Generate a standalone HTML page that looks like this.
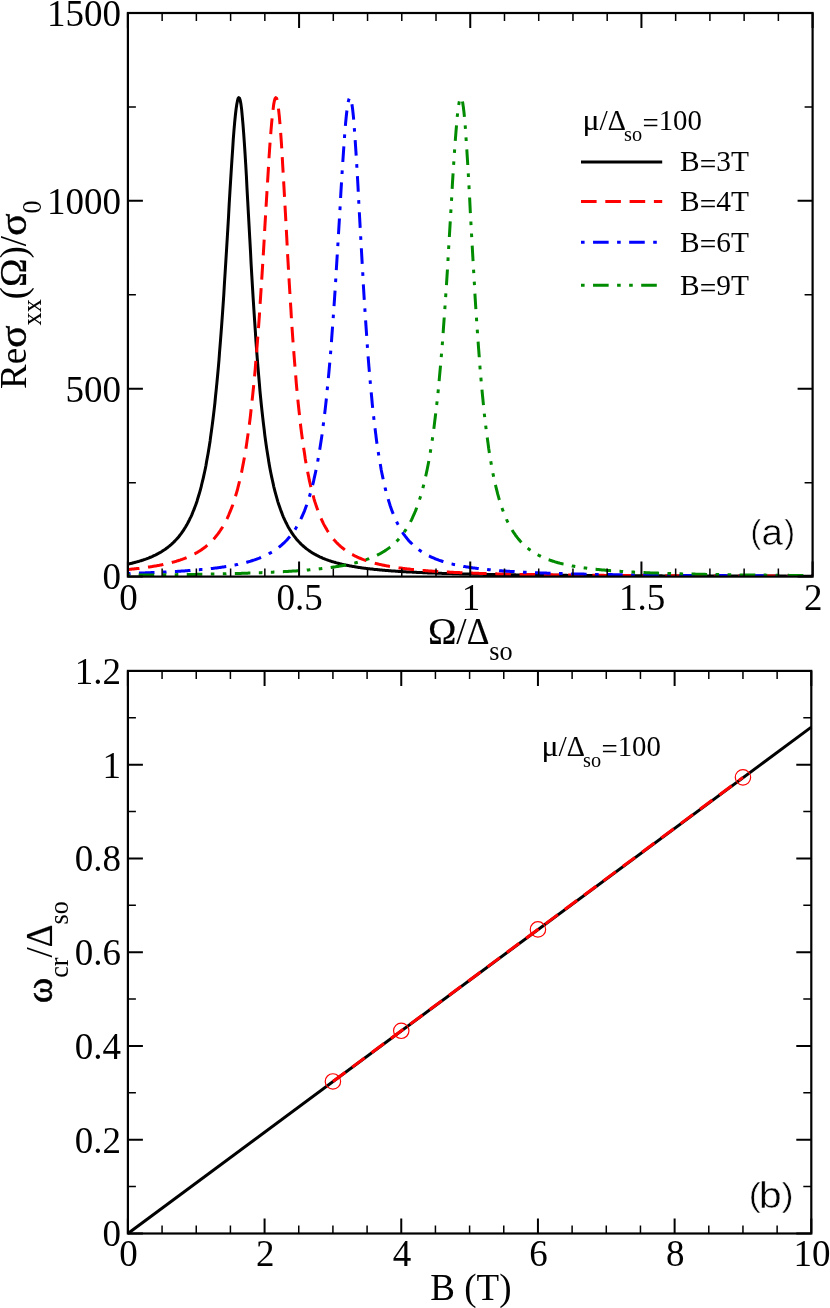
<!DOCTYPE html>
<html><head><meta charset="utf-8"><title>fig</title>
<style>
html,body{margin:0;padding:0;background:#fff;}
svg{display:block;will-change:transform;opacity:0.999}
text{font-family:"Liberation Serif", serif;fill:#000}
.s{font-family:"Liberation Sans", sans-serif}
</style></head><body>
<svg width="830" height="1308" viewBox="0 0 830 1308">
<rect width="830" height="1308" fill="#fff"/>
<clipPath id="c1"><rect x="127.9" y="13.0" width="684.7" height="563.6"/></clipPath>
<g clip-path="url(#c1)" fill="none" stroke-width="3" stroke-linejoin="round">
<path d="M127.9,564.1 L128.6,564.0 L129.3,563.8 L130.0,563.7 L130.6,563.5 L131.3,563.4 L132.0,563.2 L132.7,563.0 L133.4,562.8 L134.1,562.7 L134.7,562.5 L135.4,562.3 L136.1,562.1 L136.8,561.9 L137.5,561.7 L138.2,561.6 L138.9,561.4 L139.5,561.1 L140.2,560.9 L140.9,560.7 L141.6,560.5 L142.3,560.3 L143.0,560.1 L143.6,559.8 L144.3,559.6 L145.0,559.4 L145.7,559.1 L146.4,558.9 L147.1,558.6 L147.8,558.3 L148.4,558.1 L149.1,557.8 L149.8,557.5 L150.5,557.2 L151.2,557.0 L151.9,556.7 L152.5,556.4 L153.2,556.0 L153.9,555.7 L154.6,555.4 L155.3,555.1 L156.0,554.7 L156.7,554.4 L157.3,554.0 L158.0,553.7 L158.7,553.3 L159.4,552.9 L160.1,552.5 L160.8,552.1 L161.5,551.7 L162.1,551.3 L162.8,550.8 L163.5,550.4 L164.2,549.9 L164.9,549.5 L165.6,549.0 L166.2,548.5 L166.9,548.0 L167.6,547.5 L168.3,546.9 L169.0,546.4 L169.7,545.8 L170.4,545.3 L171.0,544.7 L171.7,544.1 L172.4,543.4 L173.1,542.8 L173.8,542.1 L174.5,541.4 L175.1,540.7 L175.8,540.0 L176.5,539.3 L177.2,538.5 L177.9,537.7 L178.6,536.9 L179.3,536.1 L179.9,535.2 L180.6,534.3 L181.3,533.4 L182.0,532.4 L182.7,531.4 L183.4,530.4 L184.0,529.4 L184.7,528.3 L185.4,527.2 L186.1,526.0 L186.8,524.9 L187.5,523.6 L188.2,522.3 L188.8,521.0 L189.5,519.7 L190.2,518.2 L190.9,516.8 L191.6,515.3 L192.3,513.7 L192.9,512.0 L193.6,510.4 L194.3,508.6 L195.0,506.8 L195.7,504.9 L196.4,502.9 L197.1,500.9 L197.7,498.7 L198.4,496.5 L199.1,494.2 L199.8,491.8 L200.5,489.3 L201.2,486.7 L201.8,484.0 L202.5,481.2 L203.2,478.3 L203.9,475.2 L204.6,472.0 L205.3,468.7 L206.0,465.2 L206.6,461.6 L207.3,457.8 L208.0,453.9 L208.7,449.7 L209.4,445.4 L210.1,440.9 L210.7,436.2 L211.4,431.2 L212.1,426.1 L212.8,420.7 L213.5,415.0 L214.2,409.1 L214.9,403.0 L215.5,396.5 L216.2,389.8 L216.9,382.8 L217.6,375.5 L218.3,367.8 L219.0,359.8 L219.6,351.5 L220.3,342.9 L221.0,333.9 L221.7,324.6 L222.4,314.9 L223.1,304.9 L223.8,294.6 L224.4,284.0 L225.1,273.0 L225.8,261.9 L226.5,250.5 L227.2,239.0 L227.9,227.3 L228.6,215.5 L229.2,203.8 L229.9,192.2 L230.6,180.8 L231.3,169.6 L232.0,158.8 L232.7,148.6 L233.3,138.9 L234.0,130.0 L234.7,122.0 L235.4,115.0 L236.1,109.0 L236.8,104.2 L237.5,100.7 L238.1,98.4 L238.8,97.6 L239.5,98.1 L240.2,100.3 L240.9,103.9 L241.6,109.1 L242.2,115.6 L242.9,123.4 L243.6,132.3 L244.3,142.1 L245.0,152.8 L245.7,164.2 L246.4,176.1 L247.0,188.4 L247.7,200.9 L248.4,213.6 L249.1,226.3 L249.8,238.9 L250.5,251.4 L251.1,263.7 L251.8,275.7 L252.5,287.4 L253.2,298.8 L253.9,309.8 L254.6,320.4 L255.3,330.6 L255.9,340.5 L256.6,349.9 L257.3,358.9 L258.0,367.6 L258.7,375.9 L259.4,383.8 L260.0,391.3 L260.7,398.5 L261.4,405.4 L262.1,411.9 L262.8,418.1 L263.5,424.1 L264.2,429.8 L264.8,435.1 L265.5,440.3 L266.2,445.2 L266.9,449.9 L267.6,454.3 L268.3,458.6 L268.9,462.6 L269.6,466.5 L270.3,470.2 L271.0,473.7 L271.7,477.1 L272.4,480.3 L273.1,483.4 L273.7,486.3 L274.4,489.2 L275.1,491.9 L275.8,494.4 L276.5,496.9 L277.2,499.3 L277.8,501.6 L278.5,503.7 L279.2,505.8 L279.9,507.8 L280.6,509.8 L281.3,511.6 L282.0,513.4 L282.6,515.1 L283.3,516.8 L284.0,518.3 L284.7,519.9 L285.4,521.3 L286.1,522.8 L286.8,524.1 L287.4,525.4 L288.1,526.7 L288.8,527.9 L289.5,529.1 L290.2,530.2 L290.9,531.3 L291.5,532.4 L292.2,533.4 L292.9,534.4 L293.6,535.4 L294.3,536.3 L295.0,537.2 L295.7,538.1 L296.3,538.9 L297.0,539.7 L297.7,540.5 L298.4,541.3 L299.1,542.0 L299.8,542.7 L300.4,543.4 L301.1,544.1 L301.8,544.8 L302.5,545.4 L303.2,546.0 L303.9,546.6 L304.6,547.2 L305.2,547.8 L305.9,548.3 L306.6,548.9 L307.3,549.4 L308.0,549.9 L308.7,550.4 L309.3,550.9 L310.0,551.3 L310.7,551.8 L311.4,552.2 L312.1,552.7 L312.8,553.1 L313.5,553.5 L314.1,553.9 L314.8,554.3 L315.5,554.7 L316.2,555.0 L316.9,555.4 L317.6,555.7 L318.2,556.1 L318.9,556.4 L319.6,556.8 L320.3,557.1 L321.0,557.4 L321.7,557.7 L322.4,558.0 L323.0,558.3 L323.7,558.6 L324.4,558.8 L325.1,559.1 L325.8,559.4 L326.5,559.6 L327.1,559.9 L327.8,560.1 L328.5,560.4 L329.2,560.6 L329.9,560.8 L330.6,561.1 L331.3,561.3 L331.9,561.5 L332.6,561.7 L333.3,561.9 L334.0,562.1 L334.7,562.3 L335.4,562.5 L336.0,562.7 L336.7,562.9 L337.4,563.1 L338.1,563.3 L338.8,563.5 L339.5,563.6 L340.2,563.8 L340.8,564.0 L341.5,564.1 L342.2,564.3 L342.9,564.4 L343.6,564.6 L344.3,564.8 L344.9,564.9 L345.6,565.0 L346.3,565.2 L347.0,565.3 L347.7,565.5 L348.4,565.6 L349.1,565.7 L349.7,565.9 L350.4,566.0 L351.1,566.1 L351.8,566.2 L352.5,566.4 L353.2,566.5 L353.9,566.6 L354.5,566.7 L355.2,566.8 L355.9,566.9 L356.6,567.1 L357.3,567.2 L358.0,567.3 L358.6,567.4 L359.3,567.5 L360.0,567.6 L360.7,567.7 L361.4,567.8 L362.1,567.9 L362.8,568.0 L363.4,568.1 L364.1,568.2 L364.8,568.2 L365.5,568.3 L366.2,568.4 L366.9,568.5 L367.5,568.6 L368.2,568.7 L368.9,568.8 L369.6,568.8 L370.3,568.9 L371.0,569.0 L371.7,569.1 L372.3,569.1 L373.0,569.2 L373.7,569.3 L374.4,569.4 L375.1,569.4 L375.8,569.5 L376.4,569.6 L377.1,569.6 L377.8,569.7 L378.5,569.8 L379.2,569.8 L379.9,569.9 L380.6,570.0 L381.2,570.0 L381.9,570.1 L382.6,570.2 L383.3,570.2 L384.0,570.3 L384.7,570.3 L385.3,570.4 L386.0,570.5 L386.7,570.5 L387.4,570.6 L388.1,570.6 L388.8,570.7 L389.5,570.7 L390.1,570.8 L390.8,570.8 L391.5,570.9 L392.2,570.9 L392.9,571.0 L393.6,571.0 L394.2,571.1 L394.9,571.1 L395.6,571.2 L396.3,571.2 L397.0,571.3 L397.7,571.3 L398.4,571.4 L399.0,571.4 L399.7,571.4 L400.4,571.5 L401.1,571.5 L401.8,571.6 L402.5,571.6 L403.1,571.7 L403.8,571.7 L404.5,571.7 L405.2,571.8 L405.9,571.8 L406.6,571.9 L407.3,571.9 L407.9,571.9 L408.6,572.0 L409.3,572.0 L410.0,572.0 L410.7,572.1 L411.4,572.1 L412.1,572.1 L412.7,572.2 L413.4,572.2 L414.1,572.2 L414.8,572.3 L415.5,572.3 L416.2,572.3 L416.8,572.4 L417.5,572.4 L418.2,572.4 L418.9,572.5 L419.6,572.5 L420.3,572.5 L421.0,572.6 L421.6,572.6 L422.3,572.6 L423.0,572.7 L423.7,572.7 L424.4,572.7 L425.1,572.7 L425.7,572.8 L426.4,572.8 L427.1,572.8 L427.8,572.9 L428.5,572.9 L429.2,572.9 L429.9,572.9 L430.5,573.0 L431.2,573.0 L431.9,573.0 L432.6,573.0 L433.3,573.1 L434.0,573.1 L434.6,573.1 L435.3,573.1 L436.0,573.2 L436.7,573.2 L437.4,573.2 L438.1,573.2 L438.8,573.2 L439.4,573.3 L440.1,573.3 L440.8,573.3 L441.5,573.3 L442.2,573.4 L442.9,573.4 L443.5,573.4 L444.2,573.4 L444.9,573.4 L445.6,573.5 L446.3,573.5 L447.0,573.5 L447.7,573.5 L448.3,573.5 L449.0,573.6 L449.7,573.6 L450.4,573.6 L451.1,573.6 L451.8,573.6 L452.4,573.7 L453.1,573.7 L453.8,573.7 L454.5,573.7 L455.2,573.7 L455.9,573.8 L456.6,573.8 L457.2,573.8 L457.9,573.8 L458.6,573.8 L459.3,573.8 L460.0,573.9 L460.7,573.9 L461.3,573.9 L462.0,573.9 L462.7,573.9 L463.4,573.9 L464.1,574.0 L464.8,574.0 L465.5,574.0 L466.1,574.0 L466.8,574.0 L467.5,574.0 L468.2,574.0 L468.9,574.1 L469.6,574.1 L470.2,574.1 L470.9,574.1 L471.6,574.1 L472.3,574.1 L473.0,574.2 L473.7,574.2 L474.4,574.2 L475.0,574.2 L475.7,574.2 L476.4,574.2 L477.1,574.2 L477.8,574.2 L478.5,574.3 L479.2,574.3 L479.8,574.3 L480.5,574.3 L481.2,574.3 L481.9,574.3 L482.6,574.3 L483.3,574.4 L483.9,574.4 L484.6,574.4 L485.3,574.4 L486.0,574.4 L486.7,574.4 L487.4,574.4 L488.1,574.4 L488.7,574.4 L489.4,574.5 L490.1,574.5 L490.8,574.5 L491.5,574.5 L492.2,574.5 L492.8,574.5 L493.5,574.5 L494.2,574.5 L494.9,574.6 L495.6,574.6 L496.3,574.6 L497.0,574.6 L497.6,574.6 L498.3,574.6 L499.0,574.6 L499.7,574.6 L500.4,574.6 L501.1,574.6 L501.7,574.7 L502.4,574.7 L503.1,574.7 L503.8,574.7 L504.5,574.7 L505.2,574.7 L505.9,574.7 L506.5,574.7 L507.2,574.7 L507.9,574.7 L508.6,574.8 L509.3,574.8 L510.0,574.8 L510.6,574.8 L511.3,574.8 L512.0,574.8 L512.7,574.8 L513.4,574.8 L514.1,574.8 L514.8,574.8 L515.4,574.8 L516.1,574.9 L516.8,574.9 L517.5,574.9 L518.2,574.9 L518.9,574.9 L519.5,574.9 L520.2,574.9 L520.9,574.9 L521.6,574.9 L522.3,574.9 L523.0,574.9 L523.7,574.9 L524.3,575.0 L525.0,575.0 L525.7,575.0 L526.4,575.0 L527.1,575.0 L527.8,575.0 L528.4,575.0 L529.1,575.0 L529.8,575.0 L530.5,575.0 L531.2,575.0 L531.9,575.0 L532.6,575.0 L533.2,575.0 L533.9,575.1 L534.6,575.1 L535.3,575.1 L536.0,575.1 L536.7,575.1 L537.4,575.1 L538.0,575.1 L538.7,575.1 L539.4,575.1 L540.1,575.1 L540.8,575.1 L541.5,575.1 L542.1,575.1 L542.8,575.1 L543.5,575.2 L544.2,575.2 L544.9,575.2 L545.6,575.2 L546.3,575.2 L546.9,575.2 L547.6,575.2 L548.3,575.2 L549.0,575.2 L549.7,575.2 L550.4,575.2 L551.0,575.2 L551.7,575.2 L552.4,575.2 L553.1,575.2 L553.8,575.2 L554.5,575.2 L555.2,575.3 L555.8,575.3 L556.5,575.3 L557.2,575.3 L557.9,575.3 L558.6,575.3 L559.3,575.3 L559.9,575.3 L560.6,575.3 L561.3,575.3 L562.0,575.3 L562.7,575.3 L563.4,575.3 L564.1,575.3 L564.7,575.3 L565.4,575.3 L566.1,575.3 L566.8,575.3 L567.5,575.4 L568.2,575.4 L568.8,575.4 L569.5,575.4 L570.2,575.4 L570.9,575.4 L571.6,575.4 L572.3,575.4 L573.0,575.4 L573.6,575.4 L574.3,575.4 L575.0,575.4 L575.7,575.4 L576.4,575.4 L577.1,575.4 L577.7,575.4 L578.4,575.4 L579.1,575.4 L579.8,575.4 L580.5,575.4 L581.2,575.5 L581.9,575.5 L582.5,575.5 L583.2,575.5 L583.9,575.5 L584.6,575.5 L585.3,575.5 L586.0,575.5 L586.6,575.5 L587.3,575.5 L588.0,575.5 L588.7,575.5 L589.4,575.5 L590.1,575.5 L590.8,575.5 L591.4,575.5 L592.1,575.5 L592.8,575.5 L593.5,575.5 L594.2,575.5 L594.9,575.5 L595.6,575.5 L596.2,575.5 L596.9,575.6 L597.6,575.6 L598.3,575.6 L599.0,575.6 L599.7,575.6 L600.3,575.6 L601.0,575.6 L601.7,575.6 L602.4,575.6 L603.1,575.6 L603.8,575.6 L604.5,575.6 L605.1,575.6 L605.8,575.6 L606.5,575.6 L607.2,575.6 L607.9,575.6 L608.6,575.6 L609.2,575.6 L609.9,575.6 L610.6,575.6 L611.3,575.6 L612.0,575.6 L612.7,575.6 L613.4,575.6 L614.0,575.6 L614.7,575.6 L615.4,575.7 L616.1,575.7 L616.8,575.7 L617.5,575.7 L618.1,575.7 L618.8,575.7 L619.5,575.7 L620.2,575.7 L620.9,575.7 L621.6,575.7 L622.3,575.7 L622.9,575.7 L623.6,575.7 L624.3,575.7 L625.0,575.7 L625.7,575.7 L626.4,575.7 L627.0,575.7 L627.7,575.7 L628.4,575.7 L629.1,575.7 L629.8,575.7 L630.5,575.7 L631.2,575.7 L631.8,575.7 L632.5,575.7 L633.2,575.7 L633.9,575.7 L634.6,575.7 L635.3,575.7 L635.9,575.7 L636.6,575.7 L637.3,575.8 L638.0,575.8 L638.7,575.8 L639.4,575.8 L640.1,575.8 L640.7,575.8 L641.4,575.8 L642.1,575.8 L642.8,575.8 L643.5,575.8 L644.2,575.8 L644.8,575.8 L645.5,575.8 L646.2,575.8 L646.9,575.8 L647.6,575.8 L648.3,575.8 L649.0,575.8 L649.6,575.8 L650.3,575.8 L651.0,575.8 L651.7,575.8 L652.4,575.8 L653.1,575.8 L653.7,575.8 L654.4,575.8 L655.1,575.8 L655.8,575.8 L656.5,575.8 L657.2,575.8 L657.9,575.8 L658.5,575.8 L659.2,575.8 L659.9,575.8 L660.6,575.8 L661.3,575.8 L662.0,575.8 L662.7,575.9 L663.3,575.9 L664.0,575.9 L664.7,575.9 L665.4,575.9 L666.1,575.9 L666.8,575.9 L667.4,575.9 L668.1,575.9 L668.8,575.9 L669.5,575.9 L670.2,575.9 L670.9,575.9 L671.6,575.9 L672.2,575.9 L672.9,575.9 L673.6,575.9 L674.3,575.9 L675.0,575.9 L675.7,575.9 L676.3,575.9 L677.0,575.9 L677.7,575.9 L678.4,575.9 L679.1,575.9 L679.8,575.9 L680.5,575.9 L681.1,575.9 L681.8,575.9 L682.5,575.9 L683.2,575.9 L683.9,575.9 L684.6,575.9 L685.2,575.9 L685.9,575.9 L686.6,575.9 L687.3,575.9 L688.0,575.9 L688.7,575.9 L689.4,575.9 L690.0,575.9 L690.7,575.9 L691.4,575.9 L692.1,575.9 L692.8,575.9 L693.5,575.9 L694.1,576.0 L694.8,576.0 L695.5,576.0 L696.2,576.0 L696.9,576.0 L697.6,576.0 L698.3,576.0 L698.9,576.0 L699.6,576.0 L700.3,576.0 L701.0,576.0 L701.7,576.0 L702.4,576.0 L703.0,576.0 L703.7,576.0 L704.4,576.0 L705.1,576.0 L705.8,576.0 L706.5,576.0 L707.2,576.0 L707.8,576.0 L708.5,576.0 L709.2,576.0 L709.9,576.0 L710.6,576.0 L711.3,576.0 L711.9,576.0 L712.6,576.0 L713.3,576.0 L714.0,576.0 L714.7,576.0 L715.4,576.0 L716.1,576.0 L716.7,576.0 L717.4,576.0 L718.1,576.0 L718.8,576.0 L719.5,576.0 L720.2,576.0 L720.9,576.0 L721.5,576.0 L722.2,576.0 L722.9,576.0 L723.6,576.0 L724.3,576.0 L725.0,576.0 L725.6,576.0 L726.3,576.0 L727.0,576.0 L727.7,576.0 L728.4,576.0 L729.1,576.0 L729.8,576.0 L730.4,576.0 L731.1,576.0 L731.8,576.0 L732.5,576.0 L733.2,576.0 L733.9,576.1 L734.5,576.1 L735.2,576.1 L735.9,576.1 L736.6,576.1 L737.3,576.1 L738.0,576.1 L738.7,576.1 L739.3,576.1 L740.0,576.1 L740.7,576.1 L741.4,576.1 L742.1,576.1 L742.8,576.1 L743.4,576.1 L744.1,576.1 L744.8,576.1 L745.5,576.1 L746.2,576.1 L746.9,576.1 L747.6,576.1 L748.2,576.1 L748.9,576.1 L749.6,576.1 L750.3,576.1 L751.0,576.1 L751.7,576.1 L752.3,576.1 L753.0,576.1 L753.7,576.1 L754.4,576.1 L755.1,576.1 L755.8,576.1 L756.5,576.1 L757.1,576.1 L757.8,576.1 L758.5,576.1 L759.2,576.1 L759.9,576.1 L760.6,576.1 L761.2,576.1 L761.9,576.1 L762.6,576.1 L763.3,576.1 L764.0,576.1 L764.7,576.1 L765.4,576.1 L766.0,576.1 L766.7,576.1 L767.4,576.1 L768.1,576.1 L768.8,576.1 L769.5,576.1 L770.1,576.1 L770.8,576.1 L771.5,576.1 L772.2,576.1 L772.9,576.1 L773.6,576.1 L774.3,576.1 L774.9,576.1 L775.6,576.1 L776.3,576.1 L777.0,576.1 L777.7,576.1 L778.4,576.1 L779.0,576.1 L779.7,576.1 L780.4,576.1 L781.1,576.1 L781.8,576.1 L782.5,576.1 L783.2,576.1 L783.8,576.1 L784.5,576.1 L785.2,576.1 L785.9,576.1 L786.6,576.2 L787.3,576.2 L788.0,576.2 L788.6,576.2 L789.3,576.2 L790.0,576.2 L790.7,576.2 L791.4,576.2 L792.1,576.2 L792.7,576.2 L793.4,576.2 L794.1,576.2 L794.8,576.2 L795.5,576.2 L796.2,576.2 L796.9,576.2 L797.5,576.2 L798.2,576.2 L798.9,576.2 L799.6,576.2 L800.3,576.2 L801.0,576.2 L801.6,576.2 L802.3,576.2 L803.0,576.2 L803.7,576.2 L804.4,576.2 L805.1,576.2 L805.8,576.2 L806.4,576.2 L807.1,576.2 L807.8,576.2 L808.5,576.2 L809.2,576.2 L809.9,576.2 L810.5,576.2 L811.2,576.2 L811.9,576.2 L812.6,576.2" stroke="#000"/>
<path d="M127.9,569.5 L128.6,569.4 L129.3,569.4 L130.0,569.3 L130.6,569.2 L131.3,569.2 L132.0,569.1 L132.7,569.0 L133.4,569.0 L134.1,568.9 L134.7,568.8 L135.4,568.7 L136.1,568.7 L136.8,568.6 L137.5,568.5 L138.2,568.4 L138.9,568.4 L139.5,568.3 L140.2,568.2 L140.9,568.1 L141.6,568.0 L142.3,567.9 L143.0,567.8 L143.6,567.8 L144.3,567.7 L145.0,567.6 L145.7,567.5 L146.4,567.4 L147.1,567.3 L147.8,567.2 L148.4,567.1 L149.1,567.0 L149.8,566.9 L150.5,566.8 L151.2,566.7 L151.9,566.6 L152.5,566.5 L153.2,566.3 L153.9,566.2 L154.6,566.1 L155.3,566.0 L156.0,565.9 L156.7,565.8 L157.3,565.6 L158.0,565.5 L158.7,565.4 L159.4,565.3 L160.1,565.1 L160.8,565.0 L161.5,564.9 L162.1,564.7 L162.8,564.6 L163.5,564.4 L164.2,564.3 L164.9,564.1 L165.6,564.0 L166.2,563.8 L166.9,563.7 L167.6,563.5 L168.3,563.4 L169.0,563.2 L169.7,563.0 L170.4,562.9 L171.0,562.7 L171.7,562.5 L172.4,562.3 L173.1,562.1 L173.8,561.9 L174.5,561.8 L175.1,561.6 L175.8,561.4 L176.5,561.2 L177.2,560.9 L177.9,560.7 L178.6,560.5 L179.3,560.3 L179.9,560.1 L180.6,559.8 L181.3,559.6 L182.0,559.4 L182.7,559.1 L183.4,558.9 L184.0,558.6 L184.7,558.4 L185.4,558.1 L186.1,557.8 L186.8,557.5 L187.5,557.3 L188.2,557.0 L188.8,556.7 L189.5,556.4 L190.2,556.1 L190.9,555.7 L191.6,555.4 L192.3,555.1 L192.9,554.7 L193.6,554.4 L194.3,554.0 L195.0,553.7 L195.7,553.3 L196.4,552.9 L197.1,552.5 L197.7,552.1 L198.4,551.7 L199.1,551.3 L199.8,550.9 L200.5,550.4 L201.2,550.0 L201.8,549.5 L202.5,549.0 L203.2,548.5 L203.9,548.0 L204.6,547.5 L205.3,547.0 L206.0,546.4 L206.6,545.9 L207.3,545.3 L208.0,544.7 L208.7,544.1 L209.4,543.5 L210.1,542.8 L210.7,542.1 L211.4,541.5 L212.1,540.8 L212.8,540.0 L213.5,539.3 L214.2,538.5 L214.9,537.7 L215.5,536.9 L216.2,536.1 L216.9,535.2 L217.6,534.3 L218.3,533.4 L219.0,532.5 L219.6,531.5 L220.3,530.5 L221.0,529.4 L221.7,528.4 L222.4,527.3 L223.1,526.1 L223.8,524.9 L224.4,523.7 L225.1,522.4 L225.8,521.1 L226.5,519.7 L227.2,518.3 L227.9,516.8 L228.6,515.3 L229.2,513.8 L229.9,512.1 L230.6,510.4 L231.3,508.7 L232.0,506.9 L232.7,505.0 L233.3,503.0 L234.0,501.0 L234.7,498.8 L235.4,496.6 L236.1,494.3 L236.8,491.9 L237.5,489.5 L238.1,486.9 L238.8,484.2 L239.5,481.4 L240.2,478.4 L240.9,475.4 L241.6,472.2 L242.2,468.9 L242.9,465.4 L243.6,461.8 L244.3,458.0 L245.0,454.1 L245.7,449.9 L246.4,445.6 L247.0,441.1 L247.7,436.4 L248.4,431.5 L249.1,426.3 L249.8,421.0 L250.5,415.3 L251.1,409.5 L251.8,403.3 L252.5,396.9 L253.2,390.2 L253.9,383.2 L254.6,375.8 L255.3,368.2 L255.9,360.2 L256.6,351.9 L257.3,343.3 L258.0,334.3 L258.7,325.0 L259.4,315.4 L260.0,305.4 L260.7,295.1 L261.4,284.5 L262.1,273.6 L262.8,262.5 L263.5,251.1 L264.2,239.5 L264.8,227.9 L265.5,216.1 L266.2,204.4 L266.9,192.8 L267.6,181.3 L268.3,170.1 L268.9,159.4 L269.6,149.1 L270.3,139.4 L271.0,130.5 L271.7,122.4 L272.4,115.3 L273.1,109.3 L273.7,104.4 L274.4,100.8 L275.1,98.5 L275.8,97.6 L276.5,98.1 L277.2,100.1 L277.8,103.7 L278.5,108.8 L279.2,115.2 L279.9,123.0 L280.6,131.8 L281.3,141.6 L282.0,152.3 L282.6,163.6 L283.3,175.5 L284.0,187.7 L284.7,200.3 L285.4,212.9 L286.1,225.6 L286.8,238.3 L287.4,250.8 L288.1,263.0 L288.8,275.1 L289.5,286.8 L290.2,298.2 L290.9,309.2 L291.5,319.9 L292.2,330.1 L292.9,340.0 L293.6,349.4 L294.3,358.5 L295.0,367.2 L295.7,375.5 L296.3,383.4 L297.0,390.9 L297.7,398.2 L298.4,405.0 L299.1,411.6 L299.8,417.8 L300.4,423.8 L301.1,429.5 L301.8,434.9 L302.5,440.0 L303.2,445.0 L303.9,449.6 L304.6,454.1 L305.2,458.4 L305.9,462.4 L306.6,466.3 L307.3,470.0 L308.0,473.6 L308.7,476.9 L309.3,480.2 L310.0,483.2 L310.7,486.2 L311.4,489.0 L312.1,491.7 L312.8,494.3 L313.5,496.8 L314.1,499.2 L314.8,501.5 L315.5,503.6 L316.2,505.7 L316.9,507.7 L317.6,509.7 L318.2,511.5 L318.9,513.3 L319.6,515.0 L320.3,516.7 L321.0,518.3 L321.7,519.8 L322.4,521.3 L323.0,522.7 L323.7,524.1 L324.4,525.4 L325.1,526.6 L325.8,527.9 L326.5,529.0 L327.1,530.2 L327.8,531.3 L328.5,532.4 L329.2,533.4 L329.9,534.4 L330.6,535.3 L331.3,536.3 L331.9,537.2 L332.6,538.0 L333.3,538.9 L334.0,539.7 L334.7,540.5 L335.4,541.2 L336.0,542.0 L336.7,542.7 L337.4,543.4 L338.1,544.1 L338.8,544.7 L339.5,545.4 L340.2,546.0 L340.8,546.6 L341.5,547.2 L342.2,547.8 L342.9,548.3 L343.6,548.8 L344.3,549.4 L344.9,549.9 L345.6,550.4 L346.3,550.9 L347.0,551.3 L347.7,551.8 L348.4,552.2 L349.1,552.6 L349.7,553.1 L350.4,553.5 L351.1,553.9 L351.8,554.3 L352.5,554.6 L353.2,555.0 L353.9,555.4 L354.5,555.7 L355.2,556.1 L355.9,556.4 L356.6,556.7 L357.3,557.1 L358.0,557.4 L358.6,557.7 L359.3,558.0 L360.0,558.3 L360.7,558.5 L361.4,558.8 L362.1,559.1 L362.8,559.4 L363.4,559.6 L364.1,559.9 L364.8,560.1 L365.5,560.4 L366.2,560.6 L366.9,560.8 L367.5,561.1 L368.2,561.3 L368.9,561.5 L369.6,561.7 L370.3,561.9 L371.0,562.1 L371.7,562.3 L372.3,562.5 L373.0,562.7 L373.7,562.9 L374.4,563.1 L375.1,563.3 L375.8,563.4 L376.4,563.6 L377.1,563.8 L377.8,564.0 L378.5,564.1 L379.2,564.3 L379.9,564.4 L380.6,564.6 L381.2,564.7 L381.9,564.9 L382.6,565.0 L383.3,565.2 L384.0,565.3 L384.7,565.5 L385.3,565.6 L386.0,565.7 L386.7,565.9 L387.4,566.0 L388.1,566.1 L388.8,566.2 L389.5,566.4 L390.1,566.5 L390.8,566.6 L391.5,566.7 L392.2,566.8 L392.9,566.9 L393.6,567.1 L394.2,567.2 L394.9,567.3 L395.6,567.4 L396.3,567.5 L397.0,567.6 L397.7,567.7 L398.4,567.8 L399.0,567.9 L399.7,568.0 L400.4,568.1 L401.1,568.1 L401.8,568.2 L402.5,568.3 L403.1,568.4 L403.8,568.5 L404.5,568.6 L405.2,568.7 L405.9,568.7 L406.6,568.8 L407.3,568.9 L407.9,569.0 L408.6,569.1 L409.3,569.1 L410.0,569.2 L410.7,569.3 L411.4,569.4 L412.1,569.4 L412.7,569.5 L413.4,569.6 L414.1,569.6 L414.8,569.7 L415.5,569.8 L416.2,569.8 L416.8,569.9 L417.5,570.0 L418.2,570.0 L418.9,570.1 L419.6,570.2 L420.3,570.2 L421.0,570.3 L421.6,570.3 L422.3,570.4 L423.0,570.4 L423.7,570.5 L424.4,570.6 L425.1,570.6 L425.7,570.7 L426.4,570.7 L427.1,570.8 L427.8,570.8 L428.5,570.9 L429.2,570.9 L429.9,571.0 L430.5,571.0 L431.2,571.1 L431.9,571.1 L432.6,571.2 L433.3,571.2 L434.0,571.3 L434.6,571.3 L435.3,571.4 L436.0,571.4 L436.7,571.4 L437.4,571.5 L438.1,571.5 L438.8,571.6 L439.4,571.6 L440.1,571.7 L440.8,571.7 L441.5,571.7 L442.2,571.8 L442.9,571.8 L443.5,571.8 L444.2,571.9 L444.9,571.9 L445.6,572.0 L446.3,572.0 L447.0,572.0 L447.7,572.1 L448.3,572.1 L449.0,572.1 L449.7,572.2 L450.4,572.2 L451.1,572.2 L451.8,572.3 L452.4,572.3 L453.1,572.3 L453.8,572.4 L454.5,572.4 L455.2,572.4 L455.9,572.5 L456.6,572.5 L457.2,572.5 L457.9,572.6 L458.6,572.6 L459.3,572.6 L460.0,572.7 L460.7,572.7 L461.3,572.7 L462.0,572.7 L462.7,572.8 L463.4,572.8 L464.1,572.8 L464.8,572.8 L465.5,572.9 L466.1,572.9 L466.8,572.9 L467.5,573.0 L468.2,573.0 L468.9,573.0 L469.6,573.0 L470.2,573.1 L470.9,573.1 L471.6,573.1 L472.3,573.1 L473.0,573.2 L473.7,573.2 L474.4,573.2 L475.0,573.2 L475.7,573.2 L476.4,573.3 L477.1,573.3 L477.8,573.3 L478.5,573.3 L479.2,573.4 L479.8,573.4 L480.5,573.4 L481.2,573.4 L481.9,573.4 L482.6,573.5 L483.3,573.5 L483.9,573.5 L484.6,573.5 L485.3,573.5 L486.0,573.6 L486.7,573.6 L487.4,573.6 L488.1,573.6 L488.7,573.6 L489.4,573.7 L490.1,573.7 L490.8,573.7 L491.5,573.7 L492.2,573.7 L492.8,573.8 L493.5,573.8 L494.2,573.8 L494.9,573.8 L495.6,573.8 L496.3,573.8 L497.0,573.9 L497.6,573.9 L498.3,573.9 L499.0,573.9 L499.7,573.9 L500.4,573.9 L501.1,574.0 L501.7,574.0 L502.4,574.0 L503.1,574.0 L503.8,574.0 L504.5,574.0 L505.2,574.0 L505.9,574.1 L506.5,574.1 L507.2,574.1 L507.9,574.1 L508.6,574.1 L509.3,574.1 L510.0,574.2 L510.6,574.2 L511.3,574.2 L512.0,574.2 L512.7,574.2 L513.4,574.2 L514.1,574.2 L514.8,574.2 L515.4,574.3 L516.1,574.3 L516.8,574.3 L517.5,574.3 L518.2,574.3 L518.9,574.3 L519.5,574.3 L520.2,574.4 L520.9,574.4 L521.6,574.4 L522.3,574.4 L523.0,574.4 L523.7,574.4 L524.3,574.4 L525.0,574.4 L525.7,574.4 L526.4,574.5 L527.1,574.5 L527.8,574.5 L528.4,574.5 L529.1,574.5 L529.8,574.5 L530.5,574.5 L531.2,574.5 L531.9,574.6 L532.6,574.6 L533.2,574.6 L533.9,574.6 L534.6,574.6 L535.3,574.6 L536.0,574.6 L536.7,574.6 L537.4,574.6 L538.0,574.6 L538.7,574.7 L539.4,574.7 L540.1,574.7 L540.8,574.7 L541.5,574.7 L542.1,574.7 L542.8,574.7 L543.5,574.7 L544.2,574.7 L544.9,574.7 L545.6,574.8 L546.3,574.8 L546.9,574.8 L547.6,574.8 L548.3,574.8 L549.0,574.8 L549.7,574.8 L550.4,574.8 L551.0,574.8 L551.7,574.8 L552.4,574.8 L553.1,574.9 L553.8,574.9 L554.5,574.9 L555.2,574.9 L555.8,574.9 L556.5,574.9 L557.2,574.9 L557.9,574.9 L558.6,574.9 L559.3,574.9 L559.9,574.9 L560.6,574.9 L561.3,575.0 L562.0,575.0 L562.7,575.0 L563.4,575.0 L564.1,575.0 L564.7,575.0 L565.4,575.0 L566.1,575.0 L566.8,575.0 L567.5,575.0 L568.2,575.0 L568.8,575.0 L569.5,575.0 L570.2,575.0 L570.9,575.1 L571.6,575.1 L572.3,575.1 L573.0,575.1 L573.6,575.1 L574.3,575.1 L575.0,575.1 L575.7,575.1 L576.4,575.1 L577.1,575.1 L577.7,575.1 L578.4,575.1 L579.1,575.1 L579.8,575.1 L580.5,575.2 L581.2,575.2 L581.9,575.2 L582.5,575.2 L583.2,575.2 L583.9,575.2 L584.6,575.2 L585.3,575.2 L586.0,575.2 L586.6,575.2 L587.3,575.2 L588.0,575.2 L588.7,575.2 L589.4,575.2 L590.1,575.2 L590.8,575.2 L591.4,575.2 L592.1,575.3 L592.8,575.3 L593.5,575.3 L594.2,575.3 L594.9,575.3 L595.6,575.3 L596.2,575.3 L596.9,575.3 L597.6,575.3 L598.3,575.3 L599.0,575.3 L599.7,575.3 L600.3,575.3 L601.0,575.3 L601.7,575.3 L602.4,575.3 L603.1,575.3 L603.8,575.3 L604.5,575.4 L605.1,575.4 L605.8,575.4 L606.5,575.4 L607.2,575.4 L607.9,575.4 L608.6,575.4 L609.2,575.4 L609.9,575.4 L610.6,575.4 L611.3,575.4 L612.0,575.4 L612.7,575.4 L613.4,575.4 L614.0,575.4 L614.7,575.4 L615.4,575.4 L616.1,575.4 L616.8,575.4 L617.5,575.4 L618.1,575.5 L618.8,575.5 L619.5,575.5 L620.2,575.5 L620.9,575.5 L621.6,575.5 L622.3,575.5 L622.9,575.5 L623.6,575.5 L624.3,575.5 L625.0,575.5 L625.7,575.5 L626.4,575.5 L627.0,575.5 L627.7,575.5 L628.4,575.5 L629.1,575.5 L629.8,575.5 L630.5,575.5 L631.2,575.5 L631.8,575.5 L632.5,575.5 L633.2,575.5 L633.9,575.6 L634.6,575.6 L635.3,575.6 L635.9,575.6 L636.6,575.6 L637.3,575.6 L638.0,575.6 L638.7,575.6 L639.4,575.6 L640.1,575.6 L640.7,575.6 L641.4,575.6 L642.1,575.6 L642.8,575.6 L643.5,575.6 L644.2,575.6 L644.8,575.6 L645.5,575.6 L646.2,575.6 L646.9,575.6 L647.6,575.6 L648.3,575.6 L649.0,575.6 L649.6,575.6 L650.3,575.6 L651.0,575.6 L651.7,575.6 L652.4,575.7 L653.1,575.7 L653.7,575.7 L654.4,575.7 L655.1,575.7 L655.8,575.7 L656.5,575.7 L657.2,575.7 L657.9,575.7 L658.5,575.7 L659.2,575.7 L659.9,575.7 L660.6,575.7 L661.3,575.7 L662.0,575.7 L662.7,575.7 L663.3,575.7 L664.0,575.7 L664.7,575.7 L665.4,575.7 L666.1,575.7 L666.8,575.7 L667.4,575.7 L668.1,575.7 L668.8,575.7 L669.5,575.7 L670.2,575.7 L670.9,575.7 L671.6,575.7 L672.2,575.7 L672.9,575.7 L673.6,575.7 L674.3,575.8 L675.0,575.8 L675.7,575.8 L676.3,575.8 L677.0,575.8 L677.7,575.8 L678.4,575.8 L679.1,575.8 L679.8,575.8 L680.5,575.8 L681.1,575.8 L681.8,575.8 L682.5,575.8 L683.2,575.8 L683.9,575.8 L684.6,575.8 L685.2,575.8 L685.9,575.8 L686.6,575.8 L687.3,575.8 L688.0,575.8 L688.7,575.8 L689.4,575.8 L690.0,575.8 L690.7,575.8 L691.4,575.8 L692.1,575.8 L692.8,575.8 L693.5,575.8 L694.1,575.8 L694.8,575.8 L695.5,575.8 L696.2,575.8 L696.9,575.8 L697.6,575.8 L698.3,575.8 L698.9,575.8 L699.6,575.9 L700.3,575.9 L701.0,575.9 L701.7,575.9 L702.4,575.9 L703.0,575.9 L703.7,575.9 L704.4,575.9 L705.1,575.9 L705.8,575.9 L706.5,575.9 L707.2,575.9 L707.8,575.9 L708.5,575.9 L709.2,575.9 L709.9,575.9 L710.6,575.9 L711.3,575.9 L711.9,575.9 L712.6,575.9 L713.3,575.9 L714.0,575.9 L714.7,575.9 L715.4,575.9 L716.1,575.9 L716.7,575.9 L717.4,575.9 L718.1,575.9 L718.8,575.9 L719.5,575.9 L720.2,575.9 L720.9,575.9 L721.5,575.9 L722.2,575.9 L722.9,575.9 L723.6,575.9 L724.3,575.9 L725.0,575.9 L725.6,575.9 L726.3,575.9 L727.0,575.9 L727.7,575.9 L728.4,575.9 L729.1,575.9 L729.8,575.9 L730.4,575.9 L731.1,576.0 L731.8,576.0 L732.5,576.0 L733.2,576.0 L733.9,576.0 L734.5,576.0 L735.2,576.0 L735.9,576.0 L736.6,576.0 L737.3,576.0 L738.0,576.0 L738.7,576.0 L739.3,576.0 L740.0,576.0 L740.7,576.0 L741.4,576.0 L742.1,576.0 L742.8,576.0 L743.4,576.0 L744.1,576.0 L744.8,576.0 L745.5,576.0 L746.2,576.0 L746.9,576.0 L747.6,576.0 L748.2,576.0 L748.9,576.0 L749.6,576.0 L750.3,576.0 L751.0,576.0 L751.7,576.0 L752.3,576.0 L753.0,576.0 L753.7,576.0 L754.4,576.0 L755.1,576.0 L755.8,576.0 L756.5,576.0 L757.1,576.0 L757.8,576.0 L758.5,576.0 L759.2,576.0 L759.9,576.0 L760.6,576.0 L761.2,576.0 L761.9,576.0 L762.6,576.0 L763.3,576.0 L764.0,576.0 L764.7,576.0 L765.4,576.0 L766.0,576.0 L766.7,576.0 L767.4,576.0 L768.1,576.0 L768.8,576.0 L769.5,576.0 L770.1,576.0 L770.8,576.1 L771.5,576.1 L772.2,576.1 L772.9,576.1 L773.6,576.1 L774.3,576.1 L774.9,576.1 L775.6,576.1 L776.3,576.1 L777.0,576.1 L777.7,576.1 L778.4,576.1 L779.0,576.1 L779.7,576.1 L780.4,576.1 L781.1,576.1 L781.8,576.1 L782.5,576.1 L783.2,576.1 L783.8,576.1 L784.5,576.1 L785.2,576.1 L785.9,576.1 L786.6,576.1 L787.3,576.1 L788.0,576.1 L788.6,576.1 L789.3,576.1 L790.0,576.1 L790.7,576.1 L791.4,576.1 L792.1,576.1 L792.7,576.1 L793.4,576.1 L794.1,576.1 L794.8,576.1 L795.5,576.1 L796.2,576.1 L796.9,576.1 L797.5,576.1 L798.2,576.1 L798.9,576.1 L799.6,576.1 L800.3,576.1 L801.0,576.1 L801.6,576.1 L802.3,576.1 L803.0,576.1 L803.7,576.1 L804.4,576.1 L805.1,576.1 L805.8,576.1 L806.4,576.1 L807.1,576.1 L807.8,576.1 L808.5,576.1 L809.2,576.1 L809.9,576.1 L810.5,576.1 L811.2,576.1 L811.9,576.1 L812.6,576.1" stroke="#ff0000" stroke-dasharray="15.6 8.7" stroke-dashoffset="4.0"/>
<path d="M127.9,573.4 L128.6,573.4 L129.3,573.4 L130.0,573.4 L130.6,573.3 L131.3,573.3 L132.0,573.3 L132.7,573.3 L133.4,573.3 L134.1,573.2 L134.7,573.2 L135.4,573.2 L136.1,573.2 L136.8,573.2 L137.5,573.1 L138.2,573.1 L138.9,573.1 L139.5,573.1 L140.2,573.0 L140.9,573.0 L141.6,573.0 L142.3,573.0 L143.0,572.9 L143.6,572.9 L144.3,572.9 L145.0,572.9 L145.7,572.8 L146.4,572.8 L147.1,572.8 L147.8,572.8 L148.4,572.7 L149.1,572.7 L149.8,572.7 L150.5,572.7 L151.2,572.6 L151.9,572.6 L152.5,572.6 L153.2,572.6 L153.9,572.5 L154.6,572.5 L155.3,572.5 L156.0,572.4 L156.7,572.4 L157.3,572.4 L158.0,572.4 L158.7,572.3 L159.4,572.3 L160.1,572.3 L160.8,572.2 L161.5,572.2 L162.1,572.2 L162.8,572.1 L163.5,572.1 L164.2,572.1 L164.9,572.0 L165.6,572.0 L166.2,572.0 L166.9,571.9 L167.6,571.9 L168.3,571.9 L169.0,571.8 L169.7,571.8 L170.4,571.8 L171.0,571.7 L171.7,571.7 L172.4,571.6 L173.1,571.6 L173.8,571.6 L174.5,571.5 L175.1,571.5 L175.8,571.5 L176.5,571.4 L177.2,571.4 L177.9,571.3 L178.6,571.3 L179.3,571.2 L179.9,571.2 L180.6,571.2 L181.3,571.1 L182.0,571.1 L182.7,571.0 L183.4,571.0 L184.0,570.9 L184.7,570.9 L185.4,570.8 L186.1,570.8 L186.8,570.7 L187.5,570.7 L188.2,570.6 L188.8,570.6 L189.5,570.5 L190.2,570.5 L190.9,570.4 L191.6,570.4 L192.3,570.3 L192.9,570.3 L193.6,570.2 L194.3,570.2 L195.0,570.1 L195.7,570.1 L196.4,570.0 L197.1,569.9 L197.7,569.9 L198.4,569.8 L199.1,569.8 L199.8,569.7 L200.5,569.6 L201.2,569.6 L201.8,569.5 L202.5,569.5 L203.2,569.4 L203.9,569.3 L204.6,569.3 L205.3,569.2 L206.0,569.1 L206.6,569.0 L207.3,569.0 L208.0,568.9 L208.7,568.8 L209.4,568.7 L210.1,568.7 L210.7,568.6 L211.4,568.5 L212.1,568.4 L212.8,568.4 L213.5,568.3 L214.2,568.2 L214.9,568.1 L215.5,568.0 L216.2,567.9 L216.9,567.9 L217.6,567.8 L218.3,567.7 L219.0,567.6 L219.6,567.5 L220.3,567.4 L221.0,567.3 L221.7,567.2 L222.4,567.1 L223.1,567.0 L223.8,566.9 L224.4,566.8 L225.1,566.7 L225.8,566.6 L226.5,566.5 L227.2,566.4 L227.9,566.2 L228.6,566.1 L229.2,566.0 L229.9,565.9 L230.6,565.8 L231.3,565.7 L232.0,565.5 L232.7,565.4 L233.3,565.3 L234.0,565.1 L234.7,565.0 L235.4,564.9 L236.1,564.7 L236.8,564.6 L237.5,564.5 L238.1,564.3 L238.8,564.2 L239.5,564.0 L240.2,563.9 L240.9,563.7 L241.6,563.5 L242.2,563.4 L242.9,563.2 L243.6,563.0 L244.3,562.9 L245.0,562.7 L245.7,562.5 L246.4,562.3 L247.0,562.2 L247.7,562.0 L248.4,561.8 L249.1,561.6 L249.8,561.4 L250.5,561.2 L251.1,561.0 L251.8,560.8 L252.5,560.5 L253.2,560.3 L253.9,560.1 L254.6,559.9 L255.3,559.6 L255.9,559.4 L256.6,559.2 L257.3,558.9 L258.0,558.6 L258.7,558.4 L259.4,558.1 L260.0,557.8 L260.7,557.6 L261.4,557.3 L262.1,557.0 L262.8,556.7 L263.5,556.4 L264.2,556.1 L264.8,555.8 L265.5,555.4 L266.2,555.1 L266.9,554.8 L267.6,554.4 L268.3,554.1 L268.9,553.7 L269.6,553.3 L270.3,553.0 L271.0,552.6 L271.7,552.2 L272.4,551.8 L273.1,551.3 L273.7,550.9 L274.4,550.5 L275.1,550.0 L275.8,549.5 L276.5,549.1 L277.2,548.6 L277.8,548.1 L278.5,547.6 L279.2,547.0 L279.9,546.5 L280.6,545.9 L281.3,545.3 L282.0,544.8 L282.6,544.1 L283.3,543.5 L284.0,542.9 L284.7,542.2 L285.4,541.5 L286.1,540.8 L286.8,540.1 L287.4,539.4 L288.1,538.6 L288.8,537.8 L289.5,537.0 L290.2,536.2 L290.9,535.3 L291.5,534.4 L292.2,533.5 L292.9,532.6 L293.6,531.6 L294.3,530.6 L295.0,529.6 L295.7,528.5 L296.3,527.4 L297.0,526.2 L297.7,525.0 L298.4,523.8 L299.1,522.5 L299.8,521.2 L300.4,519.9 L301.1,518.5 L301.8,517.0 L302.5,515.5 L303.2,513.9 L303.9,512.3 L304.6,510.6 L305.2,508.9 L305.9,507.0 L306.6,505.2 L307.3,503.2 L308.0,501.2 L308.7,499.1 L309.3,496.9 L310.0,494.6 L310.7,492.2 L311.4,489.7 L312.1,487.1 L312.8,484.4 L313.5,481.7 L314.1,478.7 L314.8,475.7 L315.5,472.5 L316.2,469.2 L316.9,465.8 L317.6,462.2 L318.2,458.4 L318.9,454.5 L319.6,450.4 L320.3,446.1 L321.0,441.6 L321.7,436.9 L322.4,432.0 L323.0,426.9 L323.7,421.5 L324.4,415.9 L325.1,410.1 L325.8,403.9 L326.5,397.5 L327.1,390.8 L327.8,383.9 L328.5,376.6 L329.2,369.0 L329.9,361.0 L330.6,352.8 L331.3,344.2 L331.9,335.3 L332.6,326.0 L333.3,316.4 L334.0,306.4 L334.7,296.1 L335.4,285.6 L336.0,274.7 L336.7,263.6 L337.4,252.2 L338.1,240.7 L338.8,229.0 L339.5,217.3 L340.2,205.6 L340.8,193.9 L341.5,182.5 L342.2,171.2 L342.9,160.4 L343.6,150.1 L344.3,140.3 L344.9,131.3 L345.6,123.2 L346.3,116.0 L347.0,109.8 L347.7,104.9 L348.4,101.1 L349.1,98.7 L349.7,97.6 L350.4,97.9 L351.1,99.8 L351.8,103.3 L352.5,108.2 L353.2,114.5 L353.9,122.1 L354.5,130.9 L355.2,140.6 L355.9,151.2 L356.6,162.5 L357.3,174.3 L358.0,186.5 L358.6,199.0 L359.3,211.7 L360.0,224.3 L360.7,237.0 L361.4,249.5 L362.1,261.8 L362.8,273.9 L363.4,285.7 L364.1,297.1 L364.8,308.1 L365.5,318.8 L366.2,329.1 L366.9,339.0 L367.5,348.5 L368.2,357.6 L368.9,366.3 L369.6,374.7 L370.3,382.6 L371.0,390.2 L371.7,397.5 L372.3,404.4 L373.0,411.0 L373.7,417.2 L374.4,423.2 L375.1,428.9 L375.8,434.4 L376.4,439.5 L377.1,444.5 L377.8,449.2 L378.5,453.7 L379.2,457.9 L379.9,462.0 L380.6,465.9 L381.2,469.7 L381.9,473.2 L382.6,476.6 L383.3,479.8 L384.0,482.9 L384.7,485.9 L385.3,488.7 L386.0,491.5 L386.7,494.1 L387.4,496.6 L388.1,498.9 L388.8,501.2 L389.5,503.4 L390.1,505.5 L390.8,507.5 L391.5,509.5 L392.2,511.4 L392.9,513.1 L393.6,514.9 L394.2,516.5 L394.9,518.1 L395.6,519.6 L396.3,521.1 L397.0,522.5 L397.7,523.9 L398.4,525.2 L399.0,526.5 L399.7,527.7 L400.4,528.9 L401.1,530.1 L401.8,531.2 L402.5,532.2 L403.1,533.3 L403.8,534.3 L404.5,535.2 L405.2,536.2 L405.9,537.1 L406.6,537.9 L407.3,538.8 L407.9,539.6 L408.6,540.4 L409.3,541.2 L410.0,541.9 L410.7,542.6 L411.4,543.3 L412.1,544.0 L412.7,544.7 L413.4,545.3 L414.1,545.9 L414.8,546.5 L415.5,547.1 L416.2,547.7 L416.8,548.3 L417.5,548.8 L418.2,549.3 L418.9,549.8 L419.6,550.3 L420.3,550.8 L421.0,551.3 L421.6,551.7 L422.3,552.2 L423.0,552.6 L423.7,553.0 L424.4,553.4 L425.1,553.8 L425.7,554.2 L426.4,554.6 L427.1,555.0 L427.8,555.3 L428.5,555.7 L429.2,556.0 L429.9,556.4 L430.5,556.7 L431.2,557.0 L431.9,557.3 L432.6,557.6 L433.3,557.9 L434.0,558.2 L434.6,558.5 L435.3,558.8 L436.0,559.1 L436.7,559.3 L437.4,559.6 L438.1,559.8 L438.8,560.1 L439.4,560.3 L440.1,560.6 L440.8,560.8 L441.5,561.0 L442.2,561.3 L442.9,561.5 L443.5,561.7 L444.2,561.9 L444.9,562.1 L445.6,562.3 L446.3,562.5 L447.0,562.7 L447.7,562.9 L448.3,563.1 L449.0,563.2 L449.7,563.4 L450.4,563.6 L451.1,563.8 L451.8,563.9 L452.4,564.1 L453.1,564.3 L453.8,564.4 L454.5,564.6 L455.2,564.7 L455.9,564.9 L456.6,565.0 L457.2,565.2 L457.9,565.3 L458.6,565.4 L459.3,565.6 L460.0,565.7 L460.7,565.8 L461.3,566.0 L462.0,566.1 L462.7,566.2 L463.4,566.4 L464.1,566.5 L464.8,566.6 L465.5,566.7 L466.1,566.8 L466.8,566.9 L467.5,567.0 L468.2,567.1 L468.9,567.3 L469.6,567.4 L470.2,567.5 L470.9,567.6 L471.6,567.7 L472.3,567.8 L473.0,567.9 L473.7,568.0 L474.4,568.0 L475.0,568.1 L475.7,568.2 L476.4,568.3 L477.1,568.4 L477.8,568.5 L478.5,568.6 L479.2,568.7 L479.8,568.7 L480.5,568.8 L481.2,568.9 L481.9,569.0 L482.6,569.1 L483.3,569.1 L483.9,569.2 L484.6,569.3 L485.3,569.4 L486.0,569.4 L486.7,569.5 L487.4,569.6 L488.1,569.6 L488.7,569.7 L489.4,569.8 L490.1,569.8 L490.8,569.9 L491.5,570.0 L492.2,570.0 L492.8,570.1 L493.5,570.1 L494.2,570.2 L494.9,570.3 L495.6,570.3 L496.3,570.4 L497.0,570.4 L497.6,570.5 L498.3,570.6 L499.0,570.6 L499.7,570.7 L500.4,570.7 L501.1,570.8 L501.7,570.8 L502.4,570.9 L503.1,570.9 L503.8,571.0 L504.5,571.0 L505.2,571.1 L505.9,571.1 L506.5,571.2 L507.2,571.2 L507.9,571.3 L508.6,571.3 L509.3,571.3 L510.0,571.4 L510.6,571.4 L511.3,571.5 L512.0,571.5 L512.7,571.6 L513.4,571.6 L514.1,571.6 L514.8,571.7 L515.4,571.7 L516.1,571.8 L516.8,571.8 L517.5,571.8 L518.2,571.9 L518.9,571.9 L519.5,572.0 L520.2,572.0 L520.9,572.0 L521.6,572.1 L522.3,572.1 L523.0,572.1 L523.7,572.2 L524.3,572.2 L525.0,572.2 L525.7,572.3 L526.4,572.3 L527.1,572.3 L527.8,572.4 L528.4,572.4 L529.1,572.4 L529.8,572.5 L530.5,572.5 L531.2,572.5 L531.9,572.6 L532.6,572.6 L533.2,572.6 L533.9,572.7 L534.6,572.7 L535.3,572.7 L536.0,572.7 L536.7,572.8 L537.4,572.8 L538.0,572.8 L538.7,572.8 L539.4,572.9 L540.1,572.9 L540.8,572.9 L541.5,573.0 L542.1,573.0 L542.8,573.0 L543.5,573.0 L544.2,573.1 L544.9,573.1 L545.6,573.1 L546.3,573.1 L546.9,573.2 L547.6,573.2 L548.3,573.2 L549.0,573.2 L549.7,573.2 L550.4,573.3 L551.0,573.3 L551.7,573.3 L552.4,573.3 L553.1,573.4 L553.8,573.4 L554.5,573.4 L555.2,573.4 L555.8,573.4 L556.5,573.5 L557.2,573.5 L557.9,573.5 L558.6,573.5 L559.3,573.5 L559.9,573.6 L560.6,573.6 L561.3,573.6 L562.0,573.6 L562.7,573.6 L563.4,573.7 L564.1,573.7 L564.7,573.7 L565.4,573.7 L566.1,573.7 L566.8,573.8 L567.5,573.8 L568.2,573.8 L568.8,573.8 L569.5,573.8 L570.2,573.8 L570.9,573.9 L571.6,573.9 L572.3,573.9 L573.0,573.9 L573.6,573.9 L574.3,573.9 L575.0,574.0 L575.7,574.0 L576.4,574.0 L577.1,574.0 L577.7,574.0 L578.4,574.0 L579.1,574.0 L579.8,574.1 L580.5,574.1 L581.2,574.1 L581.9,574.1 L582.5,574.1 L583.2,574.1 L583.9,574.1 L584.6,574.2 L585.3,574.2 L586.0,574.2 L586.6,574.2 L587.3,574.2 L588.0,574.2 L588.7,574.2 L589.4,574.3 L590.1,574.3 L590.8,574.3 L591.4,574.3 L592.1,574.3 L592.8,574.3 L593.5,574.3 L594.2,574.4 L594.9,574.4 L595.6,574.4 L596.2,574.4 L596.9,574.4 L597.6,574.4 L598.3,574.4 L599.0,574.4 L599.7,574.4 L600.3,574.5 L601.0,574.5 L601.7,574.5 L602.4,574.5 L603.1,574.5 L603.8,574.5 L604.5,574.5 L605.1,574.5 L605.8,574.5 L606.5,574.6 L607.2,574.6 L607.9,574.6 L608.6,574.6 L609.2,574.6 L609.9,574.6 L610.6,574.6 L611.3,574.6 L612.0,574.6 L612.7,574.7 L613.4,574.7 L614.0,574.7 L614.7,574.7 L615.4,574.7 L616.1,574.7 L616.8,574.7 L617.5,574.7 L618.1,574.7 L618.8,574.7 L619.5,574.8 L620.2,574.8 L620.9,574.8 L621.6,574.8 L622.3,574.8 L622.9,574.8 L623.6,574.8 L624.3,574.8 L625.0,574.8 L625.7,574.8 L626.4,574.8 L627.0,574.9 L627.7,574.9 L628.4,574.9 L629.1,574.9 L629.8,574.9 L630.5,574.9 L631.2,574.9 L631.8,574.9 L632.5,574.9 L633.2,574.9 L633.9,574.9 L634.6,574.9 L635.3,574.9 L635.9,575.0 L636.6,575.0 L637.3,575.0 L638.0,575.0 L638.7,575.0 L639.4,575.0 L640.1,575.0 L640.7,575.0 L641.4,575.0 L642.1,575.0 L642.8,575.0 L643.5,575.0 L644.2,575.0 L644.8,575.1 L645.5,575.1 L646.2,575.1 L646.9,575.1 L647.6,575.1 L648.3,575.1 L649.0,575.1 L649.6,575.1 L650.3,575.1 L651.0,575.1 L651.7,575.1 L652.4,575.1 L653.1,575.1 L653.7,575.1 L654.4,575.2 L655.1,575.2 L655.8,575.2 L656.5,575.2 L657.2,575.2 L657.9,575.2 L658.5,575.2 L659.2,575.2 L659.9,575.2 L660.6,575.2 L661.3,575.2 L662.0,575.2 L662.7,575.2 L663.3,575.2 L664.0,575.2 L664.7,575.2 L665.4,575.2 L666.1,575.3 L666.8,575.3 L667.4,575.3 L668.1,575.3 L668.8,575.3 L669.5,575.3 L670.2,575.3 L670.9,575.3 L671.6,575.3 L672.2,575.3 L672.9,575.3 L673.6,575.3 L674.3,575.3 L675.0,575.3 L675.7,575.3 L676.3,575.3 L677.0,575.3 L677.7,575.3 L678.4,575.4 L679.1,575.4 L679.8,575.4 L680.5,575.4 L681.1,575.4 L681.8,575.4 L682.5,575.4 L683.2,575.4 L683.9,575.4 L684.6,575.4 L685.2,575.4 L685.9,575.4 L686.6,575.4 L687.3,575.4 L688.0,575.4 L688.7,575.4 L689.4,575.4 L690.0,575.4 L690.7,575.4 L691.4,575.4 L692.1,575.5 L692.8,575.5 L693.5,575.5 L694.1,575.5 L694.8,575.5 L695.5,575.5 L696.2,575.5 L696.9,575.5 L697.6,575.5 L698.3,575.5 L698.9,575.5 L699.6,575.5 L700.3,575.5 L701.0,575.5 L701.7,575.5 L702.4,575.5 L703.0,575.5 L703.7,575.5 L704.4,575.5 L705.1,575.5 L705.8,575.5 L706.5,575.5 L707.2,575.5 L707.8,575.5 L708.5,575.6 L709.2,575.6 L709.9,575.6 L710.6,575.6 L711.3,575.6 L711.9,575.6 L712.6,575.6 L713.3,575.6 L714.0,575.6 L714.7,575.6 L715.4,575.6 L716.1,575.6 L716.7,575.6 L717.4,575.6 L718.1,575.6 L718.8,575.6 L719.5,575.6 L720.2,575.6 L720.9,575.6 L721.5,575.6 L722.2,575.6 L722.9,575.6 L723.6,575.6 L724.3,575.6 L725.0,575.6 L725.6,575.6 L726.3,575.7 L727.0,575.7 L727.7,575.7 L728.4,575.7 L729.1,575.7 L729.8,575.7 L730.4,575.7 L731.1,575.7 L731.8,575.7 L732.5,575.7 L733.2,575.7 L733.9,575.7 L734.5,575.7 L735.2,575.7 L735.9,575.7 L736.6,575.7 L737.3,575.7 L738.0,575.7 L738.7,575.7 L739.3,575.7 L740.0,575.7 L740.7,575.7 L741.4,575.7 L742.1,575.7 L742.8,575.7 L743.4,575.7 L744.1,575.7 L744.8,575.7 L745.5,575.7 L746.2,575.7 L746.9,575.7 L747.6,575.7 L748.2,575.8 L748.9,575.8 L749.6,575.8 L750.3,575.8 L751.0,575.8 L751.7,575.8 L752.3,575.8 L753.0,575.8 L753.7,575.8 L754.4,575.8 L755.1,575.8 L755.8,575.8 L756.5,575.8 L757.1,575.8 L757.8,575.8 L758.5,575.8 L759.2,575.8 L759.9,575.8 L760.6,575.8 L761.2,575.8 L761.9,575.8 L762.6,575.8 L763.3,575.8 L764.0,575.8 L764.7,575.8 L765.4,575.8 L766.0,575.8 L766.7,575.8 L767.4,575.8 L768.1,575.8 L768.8,575.8 L769.5,575.8 L770.1,575.8 L770.8,575.8 L771.5,575.8 L772.2,575.8 L772.9,575.8 L773.6,575.8 L774.3,575.9 L774.9,575.9 L775.6,575.9 L776.3,575.9 L777.0,575.9 L777.7,575.9 L778.4,575.9 L779.0,575.9 L779.7,575.9 L780.4,575.9 L781.1,575.9 L781.8,575.9 L782.5,575.9 L783.2,575.9 L783.8,575.9 L784.5,575.9 L785.2,575.9 L785.9,575.9 L786.6,575.9 L787.3,575.9 L788.0,575.9 L788.6,575.9 L789.3,575.9 L790.0,575.9 L790.7,575.9 L791.4,575.9 L792.1,575.9 L792.7,575.9 L793.4,575.9 L794.1,575.9 L794.8,575.9 L795.5,575.9 L796.2,575.9 L796.9,575.9 L797.5,575.9 L798.2,575.9 L798.9,575.9 L799.6,575.9 L800.3,575.9 L801.0,575.9 L801.6,575.9 L802.3,575.9 L803.0,575.9 L803.7,575.9 L804.4,575.9 L805.1,576.0 L805.8,576.0 L806.4,576.0 L807.1,576.0 L807.8,576.0 L808.5,576.0 L809.2,576.0 L809.9,576.0 L810.5,576.0 L811.2,576.0 L811.9,576.0 L812.6,576.0" stroke="#0000ff" stroke-dasharray="3.6 8.45 15.6 8.45" stroke-dashoffset="1.0"/>
<path d="M127.9,575.2 L128.6,575.2 L129.3,575.2 L130.0,575.2 L130.6,575.2 L131.3,575.2 L132.0,575.1 L132.7,575.1 L133.4,575.1 L134.1,575.1 L134.7,575.1 L135.4,575.1 L136.1,575.1 L136.8,575.1 L137.5,575.1 L138.2,575.1 L138.9,575.1 L139.5,575.1 L140.2,575.1 L140.9,575.1 L141.6,575.1 L142.3,575.1 L143.0,575.0 L143.6,575.0 L144.3,575.0 L145.0,575.0 L145.7,575.0 L146.4,575.0 L147.1,575.0 L147.8,575.0 L148.4,575.0 L149.1,575.0 L149.8,575.0 L150.5,575.0 L151.2,575.0 L151.9,575.0 L152.5,574.9 L153.2,574.9 L153.9,574.9 L154.6,574.9 L155.3,574.9 L156.0,574.9 L156.7,574.9 L157.3,574.9 L158.0,574.9 L158.7,574.9 L159.4,574.9 L160.1,574.9 L160.8,574.9 L161.5,574.8 L162.1,574.8 L162.8,574.8 L163.5,574.8 L164.2,574.8 L164.9,574.8 L165.6,574.8 L166.2,574.8 L166.9,574.8 L167.6,574.8 L168.3,574.8 L169.0,574.8 L169.7,574.7 L170.4,574.7 L171.0,574.7 L171.7,574.7 L172.4,574.7 L173.1,574.7 L173.8,574.7 L174.5,574.7 L175.1,574.7 L175.8,574.7 L176.5,574.7 L177.2,574.6 L177.9,574.6 L178.6,574.6 L179.3,574.6 L179.9,574.6 L180.6,574.6 L181.3,574.6 L182.0,574.6 L182.7,574.6 L183.4,574.6 L184.0,574.6 L184.7,574.5 L185.4,574.5 L186.1,574.5 L186.8,574.5 L187.5,574.5 L188.2,574.5 L188.8,574.5 L189.5,574.5 L190.2,574.5 L190.9,574.4 L191.6,574.4 L192.3,574.4 L192.9,574.4 L193.6,574.4 L194.3,574.4 L195.0,574.4 L195.7,574.4 L196.4,574.4 L197.1,574.3 L197.7,574.3 L198.4,574.3 L199.1,574.3 L199.8,574.3 L200.5,574.3 L201.2,574.3 L201.8,574.3 L202.5,574.3 L203.2,574.2 L203.9,574.2 L204.6,574.2 L205.3,574.2 L206.0,574.2 L206.6,574.2 L207.3,574.2 L208.0,574.1 L208.7,574.1 L209.4,574.1 L210.1,574.1 L210.7,574.1 L211.4,574.1 L212.1,574.1 L212.8,574.1 L213.5,574.0 L214.2,574.0 L214.9,574.0 L215.5,574.0 L216.2,574.0 L216.9,574.0 L217.6,574.0 L218.3,573.9 L219.0,573.9 L219.6,573.9 L220.3,573.9 L221.0,573.9 L221.7,573.9 L222.4,573.8 L223.1,573.8 L223.8,573.8 L224.4,573.8 L225.1,573.8 L225.8,573.8 L226.5,573.7 L227.2,573.7 L227.9,573.7 L228.6,573.7 L229.2,573.7 L229.9,573.7 L230.6,573.6 L231.3,573.6 L232.0,573.6 L232.7,573.6 L233.3,573.6 L234.0,573.6 L234.7,573.5 L235.4,573.5 L236.1,573.5 L236.8,573.5 L237.5,573.5 L238.1,573.4 L238.8,573.4 L239.5,573.4 L240.2,573.4 L240.9,573.4 L241.6,573.3 L242.2,573.3 L242.9,573.3 L243.6,573.3 L244.3,573.3 L245.0,573.2 L245.7,573.2 L246.4,573.2 L247.0,573.2 L247.7,573.2 L248.4,573.1 L249.1,573.1 L249.8,573.1 L250.5,573.1 L251.1,573.0 L251.8,573.0 L252.5,573.0 L253.2,573.0 L253.9,573.0 L254.6,572.9 L255.3,572.9 L255.9,572.9 L256.6,572.9 L257.3,572.8 L258.0,572.8 L258.7,572.8 L259.4,572.8 L260.0,572.7 L260.7,572.7 L261.4,572.7 L262.1,572.6 L262.8,572.6 L263.5,572.6 L264.2,572.6 L264.8,572.5 L265.5,572.5 L266.2,572.5 L266.9,572.4 L267.6,572.4 L268.3,572.4 L268.9,572.4 L269.6,572.3 L270.3,572.3 L271.0,572.3 L271.7,572.2 L272.4,572.2 L273.1,572.2 L273.7,572.1 L274.4,572.1 L275.1,572.1 L275.8,572.0 L276.5,572.0 L277.2,572.0 L277.8,571.9 L278.5,571.9 L279.2,571.9 L279.9,571.8 L280.6,571.8 L281.3,571.8 L282.0,571.7 L282.6,571.7 L283.3,571.7 L284.0,571.6 L284.7,571.6 L285.4,571.5 L286.1,571.5 L286.8,571.5 L287.4,571.4 L288.1,571.4 L288.8,571.3 L289.5,571.3 L290.2,571.3 L290.9,571.2 L291.5,571.2 L292.2,571.1 L292.9,571.1 L293.6,571.0 L294.3,571.0 L295.0,570.9 L295.7,570.9 L296.3,570.9 L297.0,570.8 L297.7,570.8 L298.4,570.7 L299.1,570.7 L299.8,570.6 L300.4,570.6 L301.1,570.5 L301.8,570.5 L302.5,570.4 L303.2,570.3 L303.9,570.3 L304.6,570.2 L305.2,570.2 L305.9,570.1 L306.6,570.1 L307.3,570.0 L308.0,570.0 L308.7,569.9 L309.3,569.8 L310.0,569.8 L310.7,569.7 L311.4,569.7 L312.1,569.6 L312.8,569.5 L313.5,569.5 L314.1,569.4 L314.8,569.3 L315.5,569.3 L316.2,569.2 L316.9,569.1 L317.6,569.1 L318.2,569.0 L318.9,568.9 L319.6,568.8 L320.3,568.8 L321.0,568.7 L321.7,568.6 L322.4,568.5 L323.0,568.5 L323.7,568.4 L324.4,568.3 L325.1,568.2 L325.8,568.1 L326.5,568.0 L327.1,568.0 L327.8,567.9 L328.5,567.8 L329.2,567.7 L329.9,567.6 L330.6,567.5 L331.3,567.4 L331.9,567.3 L332.6,567.2 L333.3,567.1 L334.0,567.0 L334.7,566.9 L335.4,566.8 L336.0,566.7 L336.7,566.6 L337.4,566.5 L338.1,566.4 L338.8,566.3 L339.5,566.1 L340.2,566.0 L340.8,565.9 L341.5,565.8 L342.2,565.7 L342.9,565.5 L343.6,565.4 L344.3,565.3 L344.9,565.2 L345.6,565.0 L346.3,564.9 L347.0,564.8 L347.7,564.6 L348.4,564.5 L349.1,564.3 L349.7,564.2 L350.4,564.0 L351.1,563.9 L351.8,563.7 L352.5,563.6 L353.2,563.4 L353.9,563.2 L354.5,563.1 L355.2,562.9 L355.9,562.7 L356.6,562.5 L357.3,562.4 L358.0,562.2 L358.6,562.0 L359.3,561.8 L360.0,561.6 L360.7,561.4 L361.4,561.2 L362.1,561.0 L362.8,560.8 L363.4,560.6 L364.1,560.4 L364.8,560.1 L365.5,559.9 L366.2,559.7 L366.9,559.4 L367.5,559.2 L368.2,558.9 L368.9,558.7 L369.6,558.4 L370.3,558.2 L371.0,557.9 L371.7,557.6 L372.3,557.3 L373.0,557.0 L373.7,556.7 L374.4,556.4 L375.1,556.1 L375.8,555.8 L376.4,555.5 L377.1,555.2 L377.8,554.8 L378.5,554.5 L379.2,554.1 L379.9,553.8 L380.6,553.4 L381.2,553.0 L381.9,552.6 L382.6,552.2 L383.3,551.8 L384.0,551.4 L384.7,551.0 L385.3,550.5 L386.0,550.1 L386.7,549.6 L387.4,549.1 L388.1,548.6 L388.8,548.1 L389.5,547.6 L390.1,547.1 L390.8,546.6 L391.5,546.0 L392.2,545.4 L392.9,544.8 L393.6,544.2 L394.2,543.6 L394.9,543.0 L395.6,542.3 L396.3,541.6 L397.0,540.9 L397.7,540.2 L398.4,539.5 L399.0,538.7 L399.7,537.9 L400.4,537.1 L401.1,536.3 L401.8,535.5 L402.5,534.6 L403.1,533.7 L403.8,532.7 L404.5,531.7 L405.2,530.7 L405.9,529.7 L406.6,528.6 L407.3,527.5 L407.9,526.4 L408.6,525.2 L409.3,524.0 L410.0,522.7 L410.7,521.4 L411.4,520.1 L412.1,518.7 L412.7,517.2 L413.4,515.7 L414.1,514.2 L414.8,512.5 L415.5,510.9 L416.2,509.1 L416.8,507.3 L417.5,505.4 L418.2,503.5 L418.9,501.5 L419.6,499.4 L420.3,497.2 L421.0,494.9 L421.6,492.6 L422.3,490.1 L423.0,487.5 L423.7,484.9 L424.4,482.1 L425.1,479.2 L425.7,476.2 L426.4,473.0 L427.1,469.7 L427.8,466.3 L428.5,462.7 L429.2,459.0 L429.9,455.1 L430.5,451.0 L431.2,446.7 L431.9,442.3 L432.6,437.6 L433.3,432.7 L434.0,427.6 L434.6,422.3 L435.3,416.8 L436.0,410.9 L436.7,404.9 L437.4,398.5 L438.1,391.9 L438.8,384.9 L439.4,377.7 L440.1,370.1 L440.8,362.3 L441.5,354.0 L442.2,345.5 L442.9,336.6 L443.5,327.4 L444.2,317.8 L444.9,307.9 L445.6,297.7 L446.3,287.2 L447.0,276.3 L447.7,265.3 L448.3,253.9 L449.0,242.4 L449.7,230.8 L450.4,219.1 L451.1,207.3 L451.8,195.7 L452.4,184.2 L453.1,172.9 L453.8,162.0 L454.5,151.6 L455.2,141.8 L455.9,132.6 L456.6,124.3 L457.2,117.0 L457.9,110.7 L458.6,105.5 L459.3,101.6 L460.0,99.0 L460.7,97.7 L461.3,97.8 L462.0,99.4 L462.7,102.7 L463.4,107.4 L464.1,113.5 L464.8,120.9 L465.5,129.5 L466.1,139.1 L466.8,149.5 L467.5,160.7 L468.2,172.5 L468.9,184.6 L469.6,197.1 L470.2,209.8 L470.9,222.4 L471.6,235.1 L472.3,247.6 L473.0,260.0 L473.7,272.1 L474.4,283.9 L475.0,295.4 L475.7,306.5 L476.4,317.2 L477.1,327.6 L477.8,337.6 L478.5,347.1 L479.2,356.3 L479.8,365.0 L480.5,373.4 L481.2,381.4 L481.9,389.1 L482.6,396.4 L483.3,403.3 L483.9,410.0 L484.6,416.3 L485.3,422.3 L486.0,428.1 L486.7,433.6 L487.4,438.8 L488.1,443.7 L488.7,448.5 L489.4,453.0 L490.1,457.3 L490.8,461.4 L491.5,465.4 L492.2,469.1 L492.8,472.7 L493.5,476.1 L494.2,479.4 L494.9,482.5 L495.6,485.5 L496.3,488.3 L497.0,491.1 L497.6,493.7 L498.3,496.2 L499.0,498.6 L499.7,500.9 L500.4,503.1 L501.1,505.2 L501.7,507.3 L502.4,509.2 L503.1,511.1 L503.8,512.9 L504.5,514.6 L505.2,516.3 L505.9,517.9 L506.5,519.4 L507.2,520.9 L507.9,522.3 L508.6,523.7 L509.3,525.0 L510.0,526.3 L510.6,527.6 L511.3,528.8 L512.0,529.9 L512.7,531.0 L513.4,532.1 L514.1,533.1 L514.8,534.1 L515.4,535.1 L516.1,536.0 L516.8,536.9 L517.5,537.8 L518.2,538.7 L518.9,539.5 L519.5,540.3 L520.2,541.1 L520.9,541.8 L521.6,542.5 L522.3,543.2 L523.0,543.9 L523.7,544.6 L524.3,545.2 L525.0,545.9 L525.7,546.5 L526.4,547.0 L527.1,547.6 L527.8,548.2 L528.4,548.7 L529.1,549.2 L529.8,549.8 L530.5,550.2 L531.2,550.7 L531.9,551.2 L532.6,551.7 L533.2,552.1 L533.9,552.5 L534.6,553.0 L535.3,553.4 L536.0,553.8 L536.7,554.2 L537.4,554.6 L538.0,554.9 L538.7,555.3 L539.4,555.6 L540.1,556.0 L540.8,556.3 L541.5,556.7 L542.1,557.0 L542.8,557.3 L543.5,557.6 L544.2,557.9 L544.9,558.2 L545.6,558.5 L546.3,558.8 L546.9,559.0 L547.6,559.3 L548.3,559.6 L549.0,559.8 L549.7,560.1 L550.4,560.3 L551.0,560.5 L551.7,560.8 L552.4,561.0 L553.1,561.2 L553.8,561.4 L554.5,561.7 L555.2,561.9 L555.8,562.1 L556.5,562.3 L557.2,562.5 L557.9,562.7 L558.6,562.9 L559.3,563.0 L559.9,563.2 L560.6,563.4 L561.3,563.6 L562.0,563.7 L562.7,563.9 L563.4,564.1 L564.1,564.2 L564.7,564.4 L565.4,564.6 L566.1,564.7 L566.8,564.9 L567.5,565.0 L568.2,565.1 L568.8,565.3 L569.5,565.4 L570.2,565.6 L570.9,565.7 L571.6,565.8 L572.3,566.0 L573.0,566.1 L573.6,566.2 L574.3,566.3 L575.0,566.5 L575.7,566.6 L576.4,566.7 L577.1,566.8 L577.7,566.9 L578.4,567.0 L579.1,567.1 L579.8,567.2 L580.5,567.3 L581.2,567.4 L581.9,567.5 L582.5,567.6 L583.2,567.7 L583.9,567.8 L584.6,567.9 L585.3,568.0 L586.0,568.1 L586.6,568.2 L587.3,568.3 L588.0,568.4 L588.7,568.5 L589.4,568.6 L590.1,568.6 L590.8,568.7 L591.4,568.8 L592.1,568.9 L592.8,569.0 L593.5,569.0 L594.2,569.1 L594.9,569.2 L595.6,569.3 L596.2,569.3 L596.9,569.4 L597.6,569.5 L598.3,569.6 L599.0,569.6 L599.7,569.7 L600.3,569.8 L601.0,569.8 L601.7,569.9 L602.4,570.0 L603.1,570.0 L603.8,570.1 L604.5,570.1 L605.1,570.2 L605.8,570.3 L606.5,570.3 L607.2,570.4 L607.9,570.4 L608.6,570.5 L609.2,570.5 L609.9,570.6 L610.6,570.7 L611.3,570.7 L612.0,570.8 L612.7,570.8 L613.4,570.9 L614.0,570.9 L614.7,571.0 L615.4,571.0 L616.1,571.1 L616.8,571.1 L617.5,571.2 L618.1,571.2 L618.8,571.3 L619.5,571.3 L620.2,571.3 L620.9,571.4 L621.6,571.4 L622.3,571.5 L622.9,571.5 L623.6,571.6 L624.3,571.6 L625.0,571.6 L625.7,571.7 L626.4,571.7 L627.0,571.8 L627.7,571.8 L628.4,571.8 L629.1,571.9 L629.8,571.9 L630.5,572.0 L631.2,572.0 L631.8,572.0 L632.5,572.1 L633.2,572.1 L633.9,572.1 L634.6,572.2 L635.3,572.2 L635.9,572.2 L636.6,572.3 L637.3,572.3 L638.0,572.3 L638.7,572.4 L639.4,572.4 L640.1,572.4 L640.7,572.5 L641.4,572.5 L642.1,572.5 L642.8,572.6 L643.5,572.6 L644.2,572.6 L644.8,572.6 L645.5,572.7 L646.2,572.7 L646.9,572.7 L647.6,572.8 L648.3,572.8 L649.0,572.8 L649.6,572.8 L650.3,572.9 L651.0,572.9 L651.7,572.9 L652.4,572.9 L653.1,573.0 L653.7,573.0 L654.4,573.0 L655.1,573.0 L655.8,573.1 L656.5,573.1 L657.2,573.1 L657.9,573.1 L658.5,573.2 L659.2,573.2 L659.9,573.2 L660.6,573.2 L661.3,573.3 L662.0,573.3 L662.7,573.3 L663.3,573.3 L664.0,573.4 L664.7,573.4 L665.4,573.4 L666.1,573.4 L666.8,573.4 L667.4,573.5 L668.1,573.5 L668.8,573.5 L669.5,573.5 L670.2,573.5 L670.9,573.6 L671.6,573.6 L672.2,573.6 L672.9,573.6 L673.6,573.6 L674.3,573.7 L675.0,573.7 L675.7,573.7 L676.3,573.7 L677.0,573.7 L677.7,573.7 L678.4,573.8 L679.1,573.8 L679.8,573.8 L680.5,573.8 L681.1,573.8 L681.8,573.9 L682.5,573.9 L683.2,573.9 L683.9,573.9 L684.6,573.9 L685.2,573.9 L685.9,574.0 L686.6,574.0 L687.3,574.0 L688.0,574.0 L688.7,574.0 L689.4,574.0 L690.0,574.0 L690.7,574.1 L691.4,574.1 L692.1,574.1 L692.8,574.1 L693.5,574.1 L694.1,574.1 L694.8,574.1 L695.5,574.2 L696.2,574.2 L696.9,574.2 L697.6,574.2 L698.3,574.2 L698.9,574.2 L699.6,574.2 L700.3,574.3 L701.0,574.3 L701.7,574.3 L702.4,574.3 L703.0,574.3 L703.7,574.3 L704.4,574.3 L705.1,574.3 L705.8,574.4 L706.5,574.4 L707.2,574.4 L707.8,574.4 L708.5,574.4 L709.2,574.4 L709.9,574.4 L710.6,574.4 L711.3,574.5 L711.9,574.5 L712.6,574.5 L713.3,574.5 L714.0,574.5 L714.7,574.5 L715.4,574.5 L716.1,574.5 L716.7,574.5 L717.4,574.6 L718.1,574.6 L718.8,574.6 L719.5,574.6 L720.2,574.6 L720.9,574.6 L721.5,574.6 L722.2,574.6 L722.9,574.6 L723.6,574.7 L724.3,574.7 L725.0,574.7 L725.6,574.7 L726.3,574.7 L727.0,574.7 L727.7,574.7 L728.4,574.7 L729.1,574.7 L729.8,574.7 L730.4,574.8 L731.1,574.8 L731.8,574.8 L732.5,574.8 L733.2,574.8 L733.9,574.8 L734.5,574.8 L735.2,574.8 L735.9,574.8 L736.6,574.8 L737.3,574.8 L738.0,574.8 L738.7,574.9 L739.3,574.9 L740.0,574.9 L740.7,574.9 L741.4,574.9 L742.1,574.9 L742.8,574.9 L743.4,574.9 L744.1,574.9 L744.8,574.9 L745.5,574.9 L746.2,574.9 L746.9,575.0 L747.6,575.0 L748.2,575.0 L748.9,575.0 L749.6,575.0 L750.3,575.0 L751.0,575.0 L751.7,575.0 L752.3,575.0 L753.0,575.0 L753.7,575.0 L754.4,575.0 L755.1,575.0 L755.8,575.1 L756.5,575.1 L757.1,575.1 L757.8,575.1 L758.5,575.1 L759.2,575.1 L759.9,575.1 L760.6,575.1 L761.2,575.1 L761.9,575.1 L762.6,575.1 L763.3,575.1 L764.0,575.1 L764.7,575.1 L765.4,575.1 L766.0,575.2 L766.7,575.2 L767.4,575.2 L768.1,575.2 L768.8,575.2 L769.5,575.2 L770.1,575.2 L770.8,575.2 L771.5,575.2 L772.2,575.2 L772.9,575.2 L773.6,575.2 L774.3,575.2 L774.9,575.2 L775.6,575.2 L776.3,575.2 L777.0,575.3 L777.7,575.3 L778.4,575.3 L779.0,575.3 L779.7,575.3 L780.4,575.3 L781.1,575.3 L781.8,575.3 L782.5,575.3 L783.2,575.3 L783.8,575.3 L784.5,575.3 L785.2,575.3 L785.9,575.3 L786.6,575.3 L787.3,575.3 L788.0,575.3 L788.6,575.3 L789.3,575.4 L790.0,575.4 L790.7,575.4 L791.4,575.4 L792.1,575.4 L792.7,575.4 L793.4,575.4 L794.1,575.4 L794.8,575.4 L795.5,575.4 L796.2,575.4 L796.9,575.4 L797.5,575.4 L798.2,575.4 L798.9,575.4 L799.6,575.4 L800.3,575.4 L801.0,575.4 L801.6,575.4 L802.3,575.4 L803.0,575.5 L803.7,575.5 L804.4,575.5 L805.1,575.5 L805.8,575.5 L806.4,575.5 L807.1,575.5 L807.8,575.5 L808.5,575.5 L809.2,575.5 L809.9,575.5 L810.5,575.5 L811.2,575.5 L811.9,575.5 L812.6,575.5" stroke="#008b00" stroke-dasharray="3.6 8.45 15.6 8.45 3.6 8.45" stroke-dashoffset="1.3"/>
</g>
<g stroke="#000" fill="none">
<path d="M162.14,576.6 v-8 M162.14,13.0 v8" stroke-width="1.5"/>
<path d="M196.37,576.6 v-8 M196.37,13.0 v8" stroke-width="1.5"/>
<path d="M230.61,576.6 v-8 M230.61,13.0 v8" stroke-width="1.5"/>
<path d="M264.84,576.6 v-8 M264.84,13.0 v8" stroke-width="1.5"/>
<path d="M333.31,576.6 v-8 M333.31,13.0 v8" stroke-width="1.5"/>
<path d="M367.55,576.6 v-8 M367.55,13.0 v8" stroke-width="1.5"/>
<path d="M401.78,576.6 v-8 M401.78,13.0 v8" stroke-width="1.5"/>
<path d="M436.01,576.6 v-8 M436.01,13.0 v8" stroke-width="1.5"/>
<path d="M504.49,576.6 v-8 M504.49,13.0 v8" stroke-width="1.5"/>
<path d="M538.72,576.6 v-8 M538.72,13.0 v8" stroke-width="1.5"/>
<path d="M572.96,576.6 v-8 M572.96,13.0 v8" stroke-width="1.5"/>
<path d="M607.19,576.6 v-8 M607.19,13.0 v8" stroke-width="1.5"/>
<path d="M675.66,576.6 v-8 M675.66,13.0 v8" stroke-width="1.5"/>
<path d="M709.90,576.6 v-8 M709.90,13.0 v8" stroke-width="1.5"/>
<path d="M744.13,576.6 v-8 M744.13,13.0 v8" stroke-width="1.5"/>
<path d="M778.37,576.6 v-8 M778.37,13.0 v8" stroke-width="1.5"/>
<path d="M127.90,576.6 v-15 M127.90,13.0 v15" stroke-width="2"/>
<path d="M299.08,576.6 v-15 M299.08,13.0 v15" stroke-width="2"/>
<path d="M470.25,576.6 v-15 M470.25,13.0 v15" stroke-width="2"/>
<path d="M641.43,576.6 v-15 M641.43,13.0 v15" stroke-width="2"/>
<path d="M812.60,576.6 v-15 M812.60,13.0 v15" stroke-width="2"/>
<path d="M127.9,482.67 h8 M812.6,482.67 h-8" stroke-width="1.5"/>
<path d="M127.9,294.80 h8 M812.6,294.80 h-8" stroke-width="1.5"/>
<path d="M127.9,106.93 h8 M812.6,106.93 h-8" stroke-width="1.5"/>
<path d="M127.9,576.60 h15 M812.6,576.60 h-15" stroke-width="2"/>
<path d="M127.9,388.73 h15 M812.6,388.73 h-15" stroke-width="2"/>
<path d="M127.9,200.87 h15 M812.6,200.87 h-15" stroke-width="2"/>
<path d="M127.9,13.00 h15 M812.6,13.00 h-15" stroke-width="2"/>
<rect x="127.9" y="13.0" width="684.7" height="563.6" stroke-width="2.2"/>
</g>
<text font-size="37px" x="121" y="589.4" text-anchor="end">0</text>
<text font-size="37px" x="121" y="401.5" text-anchor="end">500</text>
<text font-size="37px" x="121" y="213.7" text-anchor="end">1000</text>
<text font-size="37px" x="121" y="25.8" text-anchor="end">1500</text>
<text font-size="37px" x="128.5" y="610" text-anchor="middle">0</text>
<text font-size="37px" x="299.7" y="610" text-anchor="middle">0.5</text>
<text font-size="37px" x="470.9" y="610" text-anchor="middle">1</text>
<text font-size="37px" x="642.0" y="610" text-anchor="middle">1.5</text>
<text font-size="37px" x="813.2" y="610" text-anchor="middle">2</text>
<g transform="translate(427.95,644.3)">
<text transform="translate(0.00,0.00) scale(1.034,1)" font-size="37.00px" stroke="#000" stroke-width="0.20">Ω</text>
<text x="28.42" y="0.00" font-size="37.00px">/</text>
<text transform="translate(38.70,0.00) scale(0.952,1)" font-size="37.00px" stroke="#000" stroke-width="0.15">Δ</text>
<text x="61.35" y="15.54" font-size="26.27px">so</text>
</g>
<g transform="translate(25.7,388.9) rotate(-90)">
<text x="0.00" y="0.00" font-size="37.00px">Re</text>
<text transform="translate(41.11,0.00) scale(1.119,1)" font-size="37.00px" stroke="#000" stroke-width="0.40">σ</text>
<text x="63.42" y="15.54" font-size="26.27px">xx</text>
<text x="89.69" y="0.00" font-size="37.00px">(</text>
<text transform="translate(102.01,0.00) scale(1.034,1)" font-size="37.00px" stroke="#000" stroke-width="0.20">Ω</text>
<text x="130.43" y="0.00" font-size="37.00px">)/</text>
<text transform="translate(153.03,0.00) scale(1.119,1)" font-size="37.00px" stroke="#000" stroke-width="0.40">σ</text>
<text x="175.34" y="15.54" font-size="26.27px">0</text>
</g>
<g transform="translate(582.5,130.4)">
<text transform="translate(0.00,0.00) scale(1.075,1)" font-size="29.60px" stroke="#000" stroke-width="0.12">μ</text>
<text x="17.05" y="0.00" font-size="29.60px">/</text>
<text transform="translate(25.28,0.00) scale(0.952,1)" font-size="29.60px" stroke="#000" stroke-width="0.12">Δ</text>
<text x="41.60" y="10.50" font-size="20.30px">so</text>
<text x="59.90" y="2.59" font-size="28.80px">=</text>
<text x="76.14" y="0.00" font-size="28.80px">100</text>
</g>
<path d="M581.0,162.0 H662.2" stroke="#000" stroke-width="3" fill="none"/>
<text font-size="29.4px" x="680.1" y="171.4">B<tspan dy="2.6">=</tspan><tspan dy="-2.6">3T</tspan></text>
<path d="M581.0,201.6 H662.2" stroke="#ff0000" stroke-width="3" fill="none" stroke-dasharray="15.6 8.7"/>
<text font-size="29.4px" x="680.1" y="210.9">B<tspan dy="2.6">=</tspan><tspan dy="-2.6">4T</tspan></text>
<path d="M581.0,242.3 H662.2" stroke="#0000ff" stroke-width="3" fill="none" stroke-dasharray="3.6 8.45 15.6 8.45"/>
<text font-size="29.4px" x="680.1" y="251.6">B<tspan dy="2.6">=</tspan><tspan dy="-2.6">6T</tspan></text>
<path d="M581.0,285.2 H662.2" stroke="#008b00" stroke-width="3" fill="none" stroke-dasharray="3.6 8.45 15.6 8.45 3.6 8.45"/>
<text font-size="29.4px" x="680.1" y="294.9">B<tspan dy="2.6">=</tspan><tspan dy="-2.6">9T</tspan></text>
<text class="s" font-size="32.3px" transform="translate(750.5,542.9) scale(1.0,1)" stroke="#fff" stroke-width="0.5">(</text><text class="s" font-size="36px" transform="translate(761.5,544.5) scale(1.07,1)" stroke="#fff" stroke-width="0.5">a</text><text class="s" font-size="32.3px" transform="translate(784.2,542.9) scale(1.0,1)" stroke="#fff" stroke-width="0.5">)</text>
<path d="M127.90,1233.50 L811.30,727.16" stroke="#000" stroke-width="3" fill="none"/>
<path d="M332.92,1081.46 L742.96,777.37" stroke="#ff0000" stroke-width="3" fill="none" stroke-dasharray="15.5 8.55"/>
<circle cx="332.92" cy="1081.46" r="7.7" stroke="#ff0000" stroke-width="1.2" fill="none"/>
<circle cx="401.26" cy="1030.78" r="7.7" stroke="#ff0000" stroke-width="1.2" fill="none"/>
<circle cx="537.94" cy="929.41" r="7.7" stroke="#ff0000" stroke-width="1.2" fill="none"/>
<circle cx="742.96" cy="777.37" r="7.7" stroke="#ff0000" stroke-width="1.2" fill="none"/>
<g stroke="#000" fill="none">
<path d="M162.07,1233.5 v-8 M162.07,670.9 v8" stroke-width="1.5"/>
<path d="M196.24,1233.5 v-8 M196.24,670.9 v8" stroke-width="1.5"/>
<path d="M230.41,1233.5 v-8 M230.41,670.9 v8" stroke-width="1.5"/>
<path d="M298.75,1233.5 v-8 M298.75,670.9 v8" stroke-width="1.5"/>
<path d="M332.92,1233.5 v-8 M332.92,670.9 v8" stroke-width="1.5"/>
<path d="M367.09,1233.5 v-8 M367.09,670.9 v8" stroke-width="1.5"/>
<path d="M435.43,1233.5 v-8 M435.43,670.9 v8" stroke-width="1.5"/>
<path d="M469.60,1233.5 v-8 M469.60,670.9 v8" stroke-width="1.5"/>
<path d="M503.77,1233.5 v-8 M503.77,670.9 v8" stroke-width="1.5"/>
<path d="M572.11,1233.5 v-8 M572.11,670.9 v8" stroke-width="1.5"/>
<path d="M606.28,1233.5 v-8 M606.28,670.9 v8" stroke-width="1.5"/>
<path d="M640.45,1233.5 v-8 M640.45,670.9 v8" stroke-width="1.5"/>
<path d="M708.79,1233.5 v-8 M708.79,670.9 v8" stroke-width="1.5"/>
<path d="M742.96,1233.5 v-8 M742.96,670.9 v8" stroke-width="1.5"/>
<path d="M777.13,1233.5 v-8 M777.13,670.9 v8" stroke-width="1.5"/>
<path d="M127.90,1233.5 v-15 M127.90,670.9 v15" stroke-width="2"/>
<path d="M264.58,1233.5 v-15 M264.58,670.9 v15" stroke-width="2"/>
<path d="M401.26,1233.5 v-15 M401.26,670.9 v15" stroke-width="2"/>
<path d="M537.94,1233.5 v-15 M537.94,670.9 v15" stroke-width="2"/>
<path d="M674.62,1233.5 v-15 M674.62,670.9 v15" stroke-width="2"/>
<path d="M811.30,1233.5 v-15 M811.30,670.9 v15" stroke-width="2"/>
<path d="M127.9,1186.62 h8 M811.3,1186.62 h-8" stroke-width="1.5"/>
<path d="M127.9,1092.85 h8 M811.3,1092.85 h-8" stroke-width="1.5"/>
<path d="M127.9,999.08 h8 M811.3,999.08 h-8" stroke-width="1.5"/>
<path d="M127.9,905.32 h8 M811.3,905.32 h-8" stroke-width="1.5"/>
<path d="M127.9,811.55 h8 M811.3,811.55 h-8" stroke-width="1.5"/>
<path d="M127.9,717.78 h8 M811.3,717.78 h-8" stroke-width="1.5"/>
<path d="M127.9,1233.50 h15 M811.3,1233.50 h-15" stroke-width="2"/>
<path d="M127.9,1139.73 h15 M811.3,1139.73 h-15" stroke-width="2"/>
<path d="M127.9,1045.97 h15 M811.3,1045.97 h-15" stroke-width="2"/>
<path d="M127.9,952.20 h15 M811.3,952.20 h-15" stroke-width="2"/>
<path d="M127.9,858.43 h15 M811.3,858.43 h-15" stroke-width="2"/>
<path d="M127.9,764.67 h15 M811.3,764.67 h-15" stroke-width="2"/>
<path d="M127.9,670.90 h15 M811.3,670.90 h-15" stroke-width="2"/>
<rect x="127.9" y="670.9" width="683.4" height="562.6" stroke-width="2.2"/>
</g>
<text font-size="37px" x="121" y="1246.3" text-anchor="end">0</text>
<text font-size="37px" x="121" y="1152.5" text-anchor="end">0.2</text>
<text font-size="37px" x="121" y="1058.8" text-anchor="end">0.4</text>
<text font-size="37px" x="121" y="965.0" text-anchor="end">0.6</text>
<text font-size="37px" x="121" y="871.2" text-anchor="end">0.8</text>
<text font-size="37px" x="121" y="777.5" text-anchor="end">1</text>
<text font-size="37px" x="121" y="683.7" text-anchor="end">1.2</text>
<text font-size="37px" x="128.5" y="1266" text-anchor="middle">0</text>
<text font-size="37px" x="265.2" y="1266" text-anchor="middle">2</text>
<text font-size="37px" x="401.9" y="1266" text-anchor="middle">4</text>
<text font-size="37px" x="538.5" y="1266" text-anchor="middle">6</text>
<text font-size="37px" x="675.2" y="1266" text-anchor="middle">8</text>
<text font-size="37px" x="811.9" y="1266" text-anchor="middle">10</text>
<text font-size="37px" x="430.3" y="1299.9">B (T)</text>
<g transform="translate(52.2,1003.24) rotate(-90)">
<text transform="translate(0.00,0.00) scale(1.043,1)" font-size="37.00px" stroke="#000" stroke-width="0.55">ω</text>
<text x="25.38" y="15.54" font-size="26.27px">cr</text>
<text x="45.79" y="0.00" font-size="37.00px">/</text>
<text transform="translate(56.08,0.00) scale(0.952,1)" font-size="37.00px" stroke="#000" stroke-width="0.15">Δ</text>
<text x="78.72" y="15.54" font-size="26.27px">so</text>
</g>
<g transform="translate(541.5,756.2)">
<text transform="translate(0.00,0.00) scale(1.075,1)" font-size="29.60px" stroke="#000" stroke-width="0.12">μ</text>
<text x="17.05" y="0.00" font-size="29.60px">/</text>
<text transform="translate(25.28,0.00) scale(0.952,1)" font-size="29.60px" stroke="#000" stroke-width="0.12">Δ</text>
<text x="41.60" y="10.50" font-size="20.30px">so</text>
<text x="59.90" y="2.59" font-size="28.80px">=</text>
<text x="76.14" y="0.00" font-size="28.80px">100</text>
</g>
<text class="s" font-size="33px" transform="translate(748.8,1206.2) scale(1.1,1)" stroke="#fff" stroke-width="0.5">(</text><text class="s" font-size="37.5px" transform="translate(758.8,1207.8) scale(1.1,1)" stroke="#fff" stroke-width="0.5">b</text><text class="s" font-size="33px" transform="translate(781.6,1206.2) scale(1.1,1)" stroke="#fff" stroke-width="0.5">)</text>
</svg></body></html>
